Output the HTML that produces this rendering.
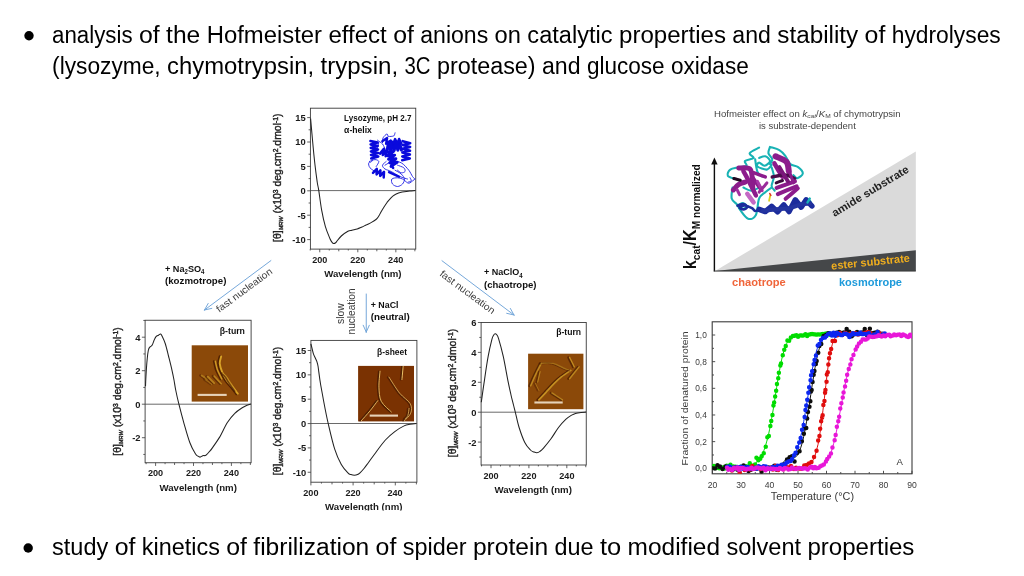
<!DOCTYPE html>
<html lang="en"><head><meta charset="utf-8"><title>Hofmeister effect</title>
<style>html,body{margin:0;padding:0;background:#fff;width:1024px;height:576px;overflow:hidden}svg{display:block;position:absolute;left:0;top:0}text{font-family:'Liberation Sans', sans-serif;white-space:pre}</style>
</head><body>
<svg width="1024" height="576" viewBox="0 0 1024 576">
<rect width="1024" height="576" fill="#fff"/>
<g id="body" fill="#000">
<text y="43.00" font-size="23"><tspan x="52.10" textLength="80.49" lengthAdjust="spacingAndGlyphs">analysis</tspan> <tspan x="138.99" textLength="20.71" lengthAdjust="spacingAndGlyphs">of</tspan> <tspan x="166.10" textLength="34.17" lengthAdjust="spacingAndGlyphs">the</tspan> <tspan x="206.66" textLength="115.38" lengthAdjust="spacingAndGlyphs">Hofmeister</tspan> <tspan x="328.44" textLength="58.34" lengthAdjust="spacingAndGlyphs">effect</tspan> <tspan x="393.18" textLength="20.71" lengthAdjust="spacingAndGlyphs">of</tspan> <tspan x="420.29" textLength="67.95" lengthAdjust="spacingAndGlyphs">anions</tspan> <tspan x="494.63" textLength="26.35" lengthAdjust="spacingAndGlyphs">on</tspan> <tspan x="527.38" textLength="85.23" lengthAdjust="spacingAndGlyphs">catalytic</tspan> <tspan x="619.01" textLength="106.96" lengthAdjust="spacingAndGlyphs">properties</tspan> <tspan x="732.37" textLength="38.56" lengthAdjust="spacingAndGlyphs">and</tspan> <tspan x="777.32" textLength="80.87" lengthAdjust="spacingAndGlyphs">stability</tspan> <tspan x="864.58" textLength="20.71" lengthAdjust="spacingAndGlyphs">of</tspan> <tspan x="891.69" textLength="109.09" lengthAdjust="spacingAndGlyphs">hydrolyses</tspan></text>
<text y="73.70" font-size="23"><tspan x="52.10" textLength="108.59" lengthAdjust="spacingAndGlyphs">(lysozyme,</tspan> <tspan x="167.08" textLength="146.98" lengthAdjust="spacingAndGlyphs">chymotrypsin,</tspan> <tspan x="320.46" textLength="77.65" lengthAdjust="spacingAndGlyphs">trypsin,</tspan> <tspan x="404.51" textLength="26.02" lengthAdjust="spacingAndGlyphs">3C</tspan> <tspan x="436.93" textLength="98.67" lengthAdjust="spacingAndGlyphs">protease)</tspan> <tspan x="541.99" textLength="38.56" lengthAdjust="spacingAndGlyphs">and</tspan> <tspan x="586.94" textLength="77.62" lengthAdjust="spacingAndGlyphs">glucose</tspan> <tspan x="670.96" textLength="77.81" lengthAdjust="spacingAndGlyphs">oxidase</tspan></text>
<text y="555.30" font-size="23"><tspan x="52.10" textLength="56.18" lengthAdjust="spacingAndGlyphs">study</tspan> <tspan x="114.68" textLength="20.71" lengthAdjust="spacingAndGlyphs">of</tspan> <tspan x="141.79" textLength="78.06" lengthAdjust="spacingAndGlyphs">kinetics</tspan> <tspan x="226.24" textLength="20.71" lengthAdjust="spacingAndGlyphs">of</tspan> <tspan x="253.35" textLength="115.85" lengthAdjust="spacingAndGlyphs">fibrilization</tspan> <tspan x="375.60" textLength="20.71" lengthAdjust="spacingAndGlyphs">of</tspan> <tspan x="402.71" textLength="63.84" lengthAdjust="spacingAndGlyphs">spider</tspan> <tspan x="472.94" textLength="75.21" lengthAdjust="spacingAndGlyphs">protein</tspan> <tspan x="554.55" textLength="39.04" lengthAdjust="spacingAndGlyphs">due</tspan> <tspan x="599.99" textLength="21.23" lengthAdjust="spacingAndGlyphs">to</tspan> <tspan x="627.62" textLength="92.40" lengthAdjust="spacingAndGlyphs">modified</tspan> <tspan x="726.41" textLength="74.62" lengthAdjust="spacingAndGlyphs">solvent</tspan> <tspan x="807.43" textLength="106.96" lengthAdjust="spacingAndGlyphs">properties</tspan></text>
<circle cx="29" cy="35.7" r="4.7"/>
<circle cx="28.2" cy="548" r="4.7"/>
</g>
<defs><filter id="soft" x="-2%" y="-2%" width="104%" height="104%"><feGaussianBlur stdDeviation="0.45"/></filter><filter id="soft2" x="-10%" y="-10%" width="120%" height="120%"><feGaussianBlur stdDeviation="0.55"/></filter></defs>
<g filter="url(#soft)">
<defs><clipPath id="clipwl"><rect x="300" y="494" width="140" height="16.4"/></clipPath></defs>
<g>
<rect x="310.40" y="108.20" width="105.35" height="140.90" fill="#fff" stroke="#3a3a3a" stroke-width="0.9"/>
<line x1="310.40" y1="190.60" x2="415.75" y2="190.60" stroke="#444" stroke-width="0.8"/>
<path d="M310.24,249.10v1.4M319.75,249.10v3.2M329.26,249.10v1.4M338.77,249.10v2.2M348.29,249.10v1.4M357.80,249.10v3.2M367.31,249.10v1.4M376.83,249.10v2.2M386.34,249.10v1.4M395.85,249.10v3.2M405.36,249.10v1.4M414.88,249.10v2.2M310.40,239.60h-3.2M310.40,227.40h-1.8M310.40,215.20h-3.2M310.40,203.00h-1.8M310.40,190.80h-3.2M310.40,178.60h-1.8M310.40,166.40h-3.2M310.40,154.20h-1.8M310.40,142.00h-3.2M310.40,129.80h-1.8M310.40,117.60h-3.2" stroke="#3a3a3a" stroke-width="0.8" fill="none"/>
<text x="319.75" y="262.70" font-size="9.4" font-weight="bold" text-anchor="middle" fill="#1a1a1a" textLength="15.20" lengthAdjust="spacingAndGlyphs">200</text>
<text x="357.80" y="262.70" font-size="9.4" font-weight="bold" text-anchor="middle" fill="#1a1a1a" textLength="15.20" lengthAdjust="spacingAndGlyphs">220</text>
<text x="395.70" y="262.70" font-size="9.4" font-weight="bold" text-anchor="middle" fill="#1a1a1a" textLength="15.20" lengthAdjust="spacingAndGlyphs">240</text>
<text x="305.80" y="121.30" font-size="9.4" font-weight="bold" text-anchor="end" fill="#1a1a1a">15</text>
<text x="305.80" y="145.30" font-size="9.4" font-weight="bold" text-anchor="end" fill="#1a1a1a">10</text>
<text x="305.80" y="169.50" font-size="9.4" font-weight="bold" text-anchor="end" fill="#1a1a1a">5</text>
<text x="305.80" y="194.00" font-size="9.4" font-weight="bold" text-anchor="end" fill="#1a1a1a">0</text>
<text x="305.80" y="218.60" font-size="9.4" font-weight="bold" text-anchor="end" fill="#1a1a1a">-5</text>
<text x="305.80" y="243.00" font-size="9.4" font-weight="bold" text-anchor="end" fill="#1a1a1a">-10</text>
<text x="362.90" y="277.30" font-size="9.7" font-weight="bold" text-anchor="middle" fill="#1a1a1a" textLength="77.40" lengthAdjust="spacingAndGlyphs">Wavelength (nm)</text>
<text transform="translate(281.10 177.70) rotate(-90)" text-anchor="middle" font-size="10.45" fill="#222" stroke="#222" stroke-width="0.4">[θ]<tspan font-size="5.6" font-style="italic" dy="2.2">MRW</tspan><tspan dy="-2.2"> (x10</tspan><tspan font-size="6.8" dy="-3.6">3</tspan><tspan dy="3.6"> deg.cm</tspan><tspan font-size="6.8" dy="-3.6">2</tspan><tspan dy="3.6">.dmol</tspan><tspan font-size="6.8" dy="-3.6">-1</tspan><tspan dy="3.6">)</tspan></text>
<path d="M310.6,118.5C310.9,122.1 311.8,132.2 312.5,140.0C313.2,147.8 314.2,158.0 315.0,165.0C315.8,172.0 316.6,177.7 317.2,182.0C317.8,186.3 318.1,186.0 318.8,190.6C319.5,195.2 320.5,203.8 321.6,209.8C322.7,215.8 324.0,221.8 325.4,226.6C326.8,231.4 328.9,236.1 330.0,238.8C331.1,241.5 331.7,241.8 332.3,242.6C332.9,243.4 333.3,243.4 333.8,243.5C334.3,243.6 334.8,243.3 335.3,243.0C335.8,242.7 335.6,242.8 336.6,241.6C337.6,240.4 339.4,237.7 341.3,236.0C343.2,234.3 346.1,232.3 347.9,231.3C349.7,230.3 350.4,230.6 352.0,230.2C353.6,229.8 355.6,229.5 357.2,229.0C358.9,228.5 360.4,227.7 362.0,227.0C363.6,226.3 365.0,225.5 366.6,224.8C368.2,224.0 369.9,223.3 371.5,222.4C373.1,221.5 374.8,220.5 376.0,219.5C377.2,218.5 377.7,217.7 378.5,216.5C379.3,215.3 379.8,214.2 380.7,212.6C381.6,211.0 382.9,208.7 384.0,207.0C385.1,205.3 386.1,203.8 387.2,202.2C388.4,200.7 389.8,199.1 391.0,197.8C392.2,196.6 393.5,195.6 394.8,194.8C396.0,193.9 397.2,193.5 398.5,193.0C399.8,192.5 400.4,192.3 402.2,192.0C404.1,191.7 407.6,191.2 409.8,191.0C411.9,190.8 414.5,190.7 415.4,190.6" fill="none" stroke="#222" stroke-width="1.05" stroke-linejoin="round"/>
</g>
<text x="344.10" y="121.00" font-size="8.6" font-weight="bold" fill="#111" textLength="67.50" lengthAdjust="spacingAndGlyphs">Lysozyme, pH 2.7</text>
<text x="344.10" y="133.40" font-size="8.6" font-weight="bold" fill="#111" textLength="27.80" lengthAdjust="spacingAndGlyphs">α-helix</text>
<g>
<rect x="145.10" y="320.25" width="106.00" height="142.50" fill="#fff" stroke="#3a3a3a" stroke-width="0.9"/>
<line x1="145.10" y1="404.20" x2="251.10" y2="404.20" stroke="#444" stroke-width="0.8"/>
<path d="M146.12,462.75v1.4M155.60,462.75v3.2M165.07,462.75v1.4M174.55,462.75v2.2M184.03,462.75v1.4M193.50,462.75v3.2M202.97,462.75v1.4M212.45,462.75v2.2M221.93,462.75v1.4M231.40,462.75v3.2M240.88,462.75v1.4M250.35,462.75v2.2M145.10,454.45h-1.8M145.10,437.70h-3.2M145.10,420.95h-1.8M145.10,404.20h-3.2M145.10,387.45h-1.8M145.10,370.70h-3.2M145.10,353.95h-1.8M145.10,337.20h-3.2M145.10,320.45h-1.8" stroke="#3a3a3a" stroke-width="0.8" fill="none"/>
<text x="155.60" y="476.35" font-size="9.4" font-weight="bold" text-anchor="middle" fill="#1a1a1a" textLength="15.20" lengthAdjust="spacingAndGlyphs">200</text>
<text x="193.50" y="476.35" font-size="9.4" font-weight="bold" text-anchor="middle" fill="#1a1a1a" textLength="15.20" lengthAdjust="spacingAndGlyphs">220</text>
<text x="231.40" y="476.35" font-size="9.4" font-weight="bold" text-anchor="middle" fill="#1a1a1a" textLength="15.20" lengthAdjust="spacingAndGlyphs">240</text>
<text x="140.50" y="340.90" font-size="9.4" font-weight="bold" text-anchor="end" fill="#1a1a1a">4</text>
<text x="140.50" y="374.30" font-size="9.4" font-weight="bold" text-anchor="end" fill="#1a1a1a">2</text>
<text x="140.50" y="407.60" font-size="9.4" font-weight="bold" text-anchor="end" fill="#1a1a1a">0</text>
<text x="140.50" y="441.10" font-size="9.4" font-weight="bold" text-anchor="end" fill="#1a1a1a">-2</text>
<text x="198.20" y="490.95" font-size="9.7" font-weight="bold" text-anchor="middle" fill="#1a1a1a" textLength="77.40" lengthAdjust="spacingAndGlyphs">Wavelength (nm)</text>
<text transform="translate(121.10 391.50) rotate(-90)" text-anchor="middle" font-size="10.45" fill="#222" stroke="#222" stroke-width="0.4">[θ]<tspan font-size="5.6" font-style="italic" dy="2.2">MRW</tspan><tspan dy="-2.2"> (x10</tspan><tspan font-size="6.8" dy="-3.6">3</tspan><tspan dy="3.6"> deg.cm</tspan><tspan font-size="6.8" dy="-3.6">2</tspan><tspan dy="3.6">.dmol</tspan><tspan font-size="6.8" dy="-3.6">-1</tspan><tspan dy="3.6">)</tspan></text>
<path d="M145.5,386.2C145.6,383.9 145.9,376.5 146.2,372.0C146.5,367.5 146.8,362.6 147.2,359.0C147.5,355.4 147.9,352.4 148.3,350.5C148.7,348.6 149.0,348.3 149.4,347.6C149.8,346.9 150.3,346.8 150.8,346.4C151.3,346.0 151.7,346.0 152.2,345.0C152.8,344.0 153.4,341.9 154.0,340.5C154.6,339.1 155.2,337.5 156.0,336.6C156.8,335.7 157.7,335.6 158.5,335.2C159.3,334.8 160.0,333.8 160.7,334.1C161.4,334.4 161.7,335.4 162.5,337.0C163.3,338.6 164.4,340.8 165.4,344.0C166.4,347.2 167.4,351.6 168.5,356.0C169.6,360.4 171.1,366.3 172.0,370.3C172.9,374.3 173.4,376.7 174.0,380.0C174.6,383.3 174.9,386.0 175.7,390.0C176.5,394.0 177.5,398.6 178.9,404.2C180.3,409.9 182.3,417.4 184.1,423.8C185.9,430.1 187.9,437.5 189.8,442.5C191.6,447.5 194.0,451.5 195.4,453.8C196.8,456.0 197.2,455.6 198.0,456.2C198.8,456.8 199.4,457.1 200.0,457.1C200.6,457.1 201.2,456.4 201.8,456.2C202.4,455.9 203.2,455.7 203.8,455.6C204.4,455.5 204.8,455.8 205.3,455.6C205.8,455.5 206.0,455.3 206.6,454.7C207.2,454.1 208.1,453.1 209.0,452.0C209.9,450.9 210.5,450.6 212.2,448.1C214.0,445.6 217.2,441.1 219.8,436.9C222.2,432.7 224.8,426.7 227.2,422.8C229.8,418.9 232.2,415.9 234.8,413.4C237.2,410.9 240.2,409.1 242.2,407.8C244.3,406.5 245.6,405.9 247.0,405.3C248.4,404.7 250.2,404.2 250.9,404.0" fill="none" stroke="#222" stroke-width="1.05" stroke-linejoin="round"/>
</g>
<text x="219.75" y="334.30" font-size="8.6" font-weight="bold" fill="#111" textLength="25.20" lengthAdjust="spacingAndGlyphs">β-turn</text>
<g>
<rect x="310.90" y="340.40" width="106.00" height="141.80" fill="#fff" stroke="#3a3a3a" stroke-width="0.9"/>
<line x1="310.90" y1="423.50" x2="416.90" y2="423.50" stroke="#444" stroke-width="0.8"/>
<path d="M310.90,482.20v3.2M321.45,482.20v1.4M332.00,482.20v2.2M342.55,482.20v1.4M353.10,482.20v3.2M363.65,482.20v1.4M374.20,482.20v2.2M384.75,482.20v1.4M395.30,482.20v3.2M405.85,482.20v1.4M416.40,482.20v2.2M310.90,472.25h-3.2M310.90,460.07h-1.8M310.90,447.90h-3.2M310.90,435.72h-1.8M310.90,423.55h-3.2M310.90,411.37h-1.8M310.90,399.20h-3.2M310.90,387.02h-1.8M310.90,374.85h-3.2M310.90,362.67h-1.8M310.90,350.50h-3.2" stroke="#3a3a3a" stroke-width="0.8" fill="none"/>
<text x="310.90" y="495.80" font-size="9.4" font-weight="bold" text-anchor="middle" fill="#1a1a1a" textLength="15.20" lengthAdjust="spacingAndGlyphs">200</text>
<text x="353.10" y="495.80" font-size="9.4" font-weight="bold" text-anchor="middle" fill="#1a1a1a" textLength="15.20" lengthAdjust="spacingAndGlyphs">220</text>
<text x="395.10" y="495.80" font-size="9.4" font-weight="bold" text-anchor="middle" fill="#1a1a1a" textLength="15.20" lengthAdjust="spacingAndGlyphs">240</text>
<text x="306.30" y="353.70" font-size="9.4" font-weight="bold" text-anchor="end" fill="#1a1a1a">15</text>
<text x="306.30" y="377.80" font-size="9.4" font-weight="bold" text-anchor="end" fill="#1a1a1a">10</text>
<text x="306.30" y="402.40" font-size="9.4" font-weight="bold" text-anchor="end" fill="#1a1a1a">5</text>
<text x="306.30" y="426.90" font-size="9.4" font-weight="bold" text-anchor="end" fill="#1a1a1a">0</text>
<text x="306.30" y="451.30" font-size="9.4" font-weight="bold" text-anchor="end" fill="#1a1a1a">-5</text>
<text x="306.30" y="475.65" font-size="9.4" font-weight="bold" text-anchor="end" fill="#1a1a1a">-10</text>
<text x="363.80" y="510.40" font-size="9.7" font-weight="bold" text-anchor="middle" fill="#1a1a1a" textLength="77.40" lengthAdjust="spacingAndGlyphs" clip-path="url(#clipwl)">Wavelength (nm)</text>
<text transform="translate(281.10 411.00) rotate(-90)" text-anchor="middle" font-size="10.45" fill="#222" stroke="#222" stroke-width="0.4">[θ]<tspan font-size="5.6" font-style="italic" dy="2.2">MRW</tspan><tspan dy="-2.2"> (x10</tspan><tspan font-size="6.8" dy="-3.6">3</tspan><tspan dy="3.6"> deg.cm</tspan><tspan font-size="6.8" dy="-3.6">2</tspan><tspan dy="3.6">.dmol</tspan><tspan font-size="6.8" dy="-3.6">-1</tspan><tspan dy="3.6">)</tspan></text>
<path d="M310.9,343.8C311.3,345.3 312.5,350.7 313.2,353.1C313.9,355.5 314.7,356.6 315.3,358.0C315.9,359.4 316.4,360.3 316.9,361.6C317.3,362.9 317.7,364.3 318.0,366.0C318.3,367.7 318.4,368.7 318.8,371.9C319.2,375.1 319.8,379.8 320.7,385.0C321.6,390.2 322.8,396.6 324.0,403.0C325.2,409.4 326.4,415.8 328.2,423.5C330.0,431.2 332.6,442.6 334.8,449.4C336.9,456.2 339.1,460.5 341.3,464.4C343.5,468.3 346.3,471.1 347.9,472.8C349.5,474.5 349.9,474.2 351.0,474.6C352.1,475.0 353.3,475.2 354.4,475.2C355.5,475.2 356.6,475.0 357.5,474.6C358.4,474.2 358.9,473.8 360.0,472.8C361.1,471.8 362.6,470.2 364.0,468.5C365.4,466.8 366.5,465.2 368.5,462.5C370.5,459.8 373.2,455.9 376.0,452.2C378.8,448.4 382.3,443.4 385.4,440.0C388.5,436.6 391.6,434.0 394.8,431.6C397.9,429.2 401.6,427.1 404.1,425.9C406.6,424.7 408.0,424.7 410.0,424.3C412.0,423.9 415.2,423.6 416.3,423.5" fill="none" stroke="#222" stroke-width="1.05" stroke-linejoin="round"/>
</g>
<text x="377.00" y="354.90" font-size="8.6" font-weight="bold" fill="#111" textLength="30.00" lengthAdjust="spacingAndGlyphs">β-sheet</text>
<g>
<rect x="481.10" y="322.50" width="105.15" height="142.50" fill="#fff" stroke="#3a3a3a" stroke-width="0.9"/>
<line x1="481.10" y1="412.20" x2="586.25" y2="412.20" stroke="#444" stroke-width="0.8"/>
<path d="M481.52,465.00v1.4M491.00,465.00v3.2M500.48,465.00v1.4M509.95,465.00v2.2M519.42,465.00v1.4M528.90,465.00v3.2M538.38,465.00v1.4M547.85,465.00v2.2M557.32,465.00v1.4M566.80,465.00v3.2M576.27,465.00v1.4M585.75,465.00v2.2M481.10,457.05h-1.8M481.10,442.10h-3.2M481.10,427.15h-1.8M481.10,412.20h-3.2M481.10,397.25h-1.8M481.10,382.30h-3.2M481.10,367.35h-1.8M481.10,352.40h-3.2M481.10,337.45h-1.8M481.10,322.50h-3.2" stroke="#3a3a3a" stroke-width="0.8" fill="none"/>
<text x="491.00" y="478.60" font-size="9.4" font-weight="bold" text-anchor="middle" fill="#1a1a1a" textLength="15.20" lengthAdjust="spacingAndGlyphs">200</text>
<text x="528.90" y="478.60" font-size="9.4" font-weight="bold" text-anchor="middle" fill="#1a1a1a" textLength="15.20" lengthAdjust="spacingAndGlyphs">220</text>
<text x="566.90" y="478.60" font-size="9.4" font-weight="bold" text-anchor="middle" fill="#1a1a1a" textLength="15.20" lengthAdjust="spacingAndGlyphs">240</text>
<text x="476.50" y="325.90" font-size="9.4" font-weight="bold" text-anchor="end" fill="#1a1a1a">6</text>
<text x="476.50" y="355.70" font-size="9.4" font-weight="bold" text-anchor="end" fill="#1a1a1a">4</text>
<text x="476.50" y="385.60" font-size="9.4" font-weight="bold" text-anchor="end" fill="#1a1a1a">2</text>
<text x="476.50" y="415.60" font-size="9.4" font-weight="bold" text-anchor="end" fill="#1a1a1a">0</text>
<text x="476.50" y="445.50" font-size="9.4" font-weight="bold" text-anchor="end" fill="#1a1a1a">-2</text>
<text x="533.20" y="493.20" font-size="9.7" font-weight="bold" text-anchor="middle" fill="#1a1a1a" textLength="77.40" lengthAdjust="spacingAndGlyphs">Wavelength (nm)</text>
<text transform="translate(456.10 393.00) rotate(-90)" text-anchor="middle" font-size="10.45" fill="#222" stroke="#222" stroke-width="0.4">[θ]<tspan font-size="5.6" font-style="italic" dy="2.2">MRW</tspan><tspan dy="-2.2"> (x10</tspan><tspan font-size="6.8" dy="-3.6">3</tspan><tspan dy="3.6"> deg.cm</tspan><tspan font-size="6.8" dy="-3.6">2</tspan><tspan dy="3.6">.dmol</tspan><tspan font-size="6.8" dy="-3.6">-1</tspan><tspan dy="3.6">)</tspan></text>
<path d="M481.3,402.2C481.8,398.6 483.2,388.3 484.4,380.6C485.5,372.9 486.9,363.1 488.2,356.2C489.4,349.4 491.0,342.9 491.9,339.4C492.8,335.9 493.1,336.1 493.6,335.2C494.1,334.3 494.6,333.8 495.1,333.8C495.6,333.7 496.1,334.0 496.7,334.8C497.3,335.6 497.4,334.8 498.5,338.4C499.6,342.0 501.6,349.2 503.2,356.2C504.8,363.3 506.6,374.1 507.9,380.6C509.2,387.1 510.1,390.9 511.0,395.0C511.9,399.1 512.8,402.1 513.5,405.0C514.2,407.9 514.5,408.8 515.4,412.5C516.3,416.2 517.5,422.5 519.1,427.5C520.7,432.5 522.9,438.8 524.8,442.5C526.6,446.2 528.9,448.4 530.4,450.0C531.9,451.6 532.9,451.5 534.0,452.0C535.1,452.5 535.9,452.9 536.9,452.8C537.9,452.7 538.9,452.2 540.0,451.4C541.1,450.6 541.7,450.2 543.5,448.1C545.3,446.0 548.5,442.2 551.0,438.8C553.5,435.3 556.0,430.8 558.5,427.5C561.0,424.2 563.9,421.1 566.0,419.1C568.1,417.1 569.4,416.4 571.0,415.5C572.6,414.6 573.7,413.9 575.4,413.4C577.1,412.9 579.2,412.6 581.0,412.4C582.8,412.2 585.2,412.2 586.1,412.1" fill="none" stroke="#222" stroke-width="1.05" stroke-linejoin="round"/>
</g>
<text x="556.25" y="334.80" font-size="8.6" font-weight="bold" fill="#111" textLength="24.80" lengthAdjust="spacingAndGlyphs">β-turn</text>
<path d="M270.90,260.60L204.50,310.00M204.50,310.00l3.68,-6.54M204.50,310.00l7.32,-1.64" stroke="#6fa3d8" stroke-width="0.95" fill="none" stroke-linecap="round"/>
<path d="M442.00,260.75L514.00,315.00M514.00,315.00l-7.31,-1.69M514.00,315.00l-3.64,-6.56" stroke="#6fa3d8" stroke-width="0.95" fill="none" stroke-linecap="round"/>
<path d="M366.25,294.00L366.25,332.10M366.25,332.10l-3.05,-6.85M366.25,332.10l3.05,-6.85" stroke="#6fa3d8" stroke-width="0.95" fill="none" stroke-linecap="round"/>
<text transform="translate(246.2 292.8) rotate(-36.5)" text-anchor="middle" font-size="9.8" fill="#3a3a3a" textLength="67" lengthAdjust="spacingAndGlyphs">fast nucleation</text>
<text transform="translate(465.5 294.8) rotate(36.5)" text-anchor="middle" font-size="9.8" fill="#3a3a3a" textLength="66" lengthAdjust="spacingAndGlyphs">fast nucleation</text>
<text transform="translate(343.6 313.7) rotate(-90)" text-anchor="middle" font-size="10.4" fill="#3a3a3a" textLength="20.6" lengthAdjust="spacingAndGlyphs">slow</text>
<text transform="translate(354.9 311.4) rotate(-90)" text-anchor="middle" font-size="10.4" fill="#3a3a3a" textLength="46" lengthAdjust="spacingAndGlyphs">nucleation</text>
<text x="165.00" y="271.50" font-size="9.6" font-weight="bold" fill="#111" textLength="39.50" lengthAdjust="spacingAndGlyphs">+ Na<tspan font-size="6.4" dy="2.2">2</tspan><tspan dy="-2.2" font-size="0.1"> </tspan>SO<tspan font-size="6.4" dy="2.2">4</tspan><tspan dy="-2.2" font-size="0.1"> </tspan></text>
<text x="165.00" y="283.70" font-size="9.6" font-weight="bold" fill="#111" textLength="61.40" lengthAdjust="spacingAndGlyphs">(kozmotrope)</text>
<text x="484.00" y="275.30" font-size="9.6" font-weight="bold" fill="#111" textLength="38.75" lengthAdjust="spacingAndGlyphs">+ NaClO<tspan font-size="6.4" dy="2.2">4</tspan><tspan dy="-2.2" font-size="0.1"> </tspan></text>
<text x="484.00" y="287.50" font-size="9.6" font-weight="bold" fill="#111" textLength="52.50" lengthAdjust="spacingAndGlyphs">(chaotrope)</text>
<text x="370.75" y="307.70" font-size="9.6" font-weight="bold" fill="#111" textLength="27.75" lengthAdjust="spacingAndGlyphs">+ NaCl</text>
<text x="370.75" y="319.90" font-size="9.6" font-weight="bold" fill="#111" textLength="39.00" lengthAdjust="spacingAndGlyphs">(neutral)</text>
<g>
<polygon points="715,271 915.8,271 915.8,151.5" fill="#dadada"/>
<polygon points="715,271 915.8,271 915.8,250.3" fill="#45474a"/>
<path d="M714.4,271.3V162" stroke="#111" stroke-width="1.4" fill="none"/>
<polygon points="714.4,157.6 711.2,164.6 717.6,164.6" fill="#111"/>
<path d="M713.7,271.1H915.8" stroke="#333" stroke-width="0.9" fill="none"/>
<text x="714.00" y="116.60" font-size="8.7" fill="#444" textLength="186.60" lengthAdjust="spacingAndGlyphs">Hofmeister effect on <tspan font-style="italic">k</tspan><tspan font-size="6" dy="1.5" font-style="italic">cat</tspan><tspan dy="-1.5">/</tspan><tspan font-style="italic">K</tspan><tspan font-size="6" dy="1.5">M</tspan><tspan dy="-1.5"> of chymotrypsin</tspan></text>
<text x="807.40" y="129.20" font-size="8.7" text-anchor="middle" fill="#444" textLength="96.80" lengthAdjust="spacingAndGlyphs">is substrate-dependent</text>
<text transform="translate(695.8 269.2) rotate(-90)" font-weight="bold" fill="#111" font-size="17.6" textLength="105" lengthAdjust="spacingAndGlyphs">k<tspan font-size="11" dy="4.6">cat</tspan><tspan dy="-4.6">/K</tspan><tspan font-size="11" dy="4.6">M normalized</tspan></text>
<text transform="translate(872.2 194.2) rotate(-31.2)" text-anchor="middle" font-weight="bold" fill="#222" font-size="10.8" textLength="88" lengthAdjust="spacingAndGlyphs">amide substrate</text>
<text transform="translate(870.9 265.7) rotate(-5.8)" text-anchor="middle" font-weight="bold" fill="#f0ae1e" font-size="11" textLength="79" lengthAdjust="spacingAndGlyphs">ester substrate</text>
<text x="732.00" y="286.20" font-size="10.8" font-weight="bold" fill="#f0653a" textLength="53.80" lengthAdjust="spacingAndGlyphs">chaotrope</text>
<text x="839.00" y="286.20" font-size="10.8" font-weight="bold" fill="#1e9ada" textLength="63.00" lengthAdjust="spacingAndGlyphs">kosmotrope</text>
</g>
<g>
<rect x="712.2" y="321.8" width="199.80" height="152.00" fill="#fff" stroke="#3c3c3c" stroke-width="1.1"/>
<path d="M712.50,473.8v-3M726.75,473.8v-1.8M741.00,473.8v-3M755.25,473.8v-1.8M769.50,473.8v-3M783.75,473.8v-1.8M798.00,473.8v-3M812.25,473.8v-1.8M826.50,473.8v-3M840.75,473.8v-1.8M855.00,473.8v-3M869.25,473.8v-1.8M883.50,473.8v-3M897.75,473.8v-1.8M912.00,473.8v-3M712.2,468.30h3M712.2,454.97h1.8M712.2,441.64h3M712.2,428.31h1.8M712.2,414.98h3M712.2,401.65h1.8M712.2,388.32h3M712.2,374.99h1.8M712.2,361.66h3M712.2,348.33h1.8M712.2,335.00h3" stroke="#3c3c3c" stroke-width="0.9" fill="none"/>
<text x="712.50" y="487.60" font-size="8.6" text-anchor="middle" fill="#3a3a3a" textLength="9.60" lengthAdjust="spacingAndGlyphs">20</text>
<text x="741.00" y="487.60" font-size="8.6" text-anchor="middle" fill="#3a3a3a" textLength="9.60" lengthAdjust="spacingAndGlyphs">30</text>
<text x="769.50" y="487.60" font-size="8.6" text-anchor="middle" fill="#3a3a3a" textLength="9.60" lengthAdjust="spacingAndGlyphs">40</text>
<text x="798.00" y="487.60" font-size="8.6" text-anchor="middle" fill="#3a3a3a" textLength="9.60" lengthAdjust="spacingAndGlyphs">50</text>
<text x="826.50" y="487.60" font-size="8.6" text-anchor="middle" fill="#3a3a3a" textLength="9.60" lengthAdjust="spacingAndGlyphs">60</text>
<text x="855.00" y="487.60" font-size="8.6" text-anchor="middle" fill="#3a3a3a" textLength="9.60" lengthAdjust="spacingAndGlyphs">70</text>
<text x="883.50" y="487.60" font-size="8.6" text-anchor="middle" fill="#3a3a3a" textLength="9.60" lengthAdjust="spacingAndGlyphs">80</text>
<text x="912.00" y="487.60" font-size="8.6" text-anchor="middle" fill="#3a3a3a" textLength="9.60" lengthAdjust="spacingAndGlyphs">90</text>
<text x="706.80" y="471.40" font-size="8.6" text-anchor="end" fill="#3a3a3a" textLength="11.60" lengthAdjust="spacingAndGlyphs">0,0</text>
<text x="706.80" y="444.74" font-size="8.6" text-anchor="end" fill="#3a3a3a" textLength="11.60" lengthAdjust="spacingAndGlyphs">0,2</text>
<text x="706.80" y="418.08" font-size="8.6" text-anchor="end" fill="#3a3a3a" textLength="11.60" lengthAdjust="spacingAndGlyphs">0,4</text>
<text x="706.80" y="391.42" font-size="8.6" text-anchor="end" fill="#3a3a3a" textLength="11.60" lengthAdjust="spacingAndGlyphs">0,6</text>
<text x="706.80" y="364.76" font-size="8.6" text-anchor="end" fill="#3a3a3a" textLength="11.60" lengthAdjust="spacingAndGlyphs">0,8</text>
<text x="706.80" y="338.10" font-size="8.6" text-anchor="end" fill="#3a3a3a" textLength="11.60" lengthAdjust="spacingAndGlyphs">1,0</text>
<text x="812.40" y="499.60" font-size="10.3" text-anchor="middle" fill="#3a3a3a" textLength="83.20" lengthAdjust="spacingAndGlyphs">Temperature (°C)</text>
<text transform="translate(688.2 398.4) rotate(-90)" text-anchor="middle" font-size="9.8" fill="#3a3a3a" textLength="134" lengthAdjust="spacingAndGlyphs">Fraction of denatured protein</text>
<text x="896.40" y="465.20" font-size="9.6" fill="#333">A</text>
<clipPath id="clipden"><rect x="712.2" y="321.8" width="199.8" height="152"/></clipPath><g clip-path="url(#clipden)">
<path d="M712.5,467.8L713.2,467.8L713.9,467.8L714.6,467.8L715.4,467.8L716.1,467.8L716.8,467.8L717.5,467.8L718.2,467.8L718.9,467.8L719.6,467.8L720.3,467.8L721.0,467.8L721.8,467.7L722.5,467.7L723.2,467.7L723.9,467.7L724.6,467.7L725.3,467.7L726.0,467.7L726.8,467.7L727.5,467.7L728.2,467.7L728.9,467.7L729.6,467.7L730.3,467.7L731.0,467.7L731.7,467.7L732.5,467.7L733.2,467.7L733.9,467.6L734.6,467.6L735.3,467.6L736.0,467.6L736.7,467.6L737.4,467.5L738.1,467.5L738.9,467.5L739.6,467.4L740.3,467.4L741.0,467.3L741.7,467.3L742.4,467.2L743.1,467.2L743.9,467.1L744.6,467.0L745.3,466.9L746.0,466.8L746.7,466.7L747.4,466.5L748.1,466.4L748.8,466.2L749.5,466.0L750.3,465.8L751.0,465.6L751.7,465.3L752.4,465.0L753.1,464.6L753.8,464.2L754.5,463.8L755.2,463.3L756.0,462.8L756.7,462.2L757.4,461.5L758.1,460.7L758.8,459.9L759.5,458.9L760.2,457.9L761.0,456.7L761.7,455.4L762.4,454.0L763.1,452.4L763.8,450.7L764.5,448.8L765.2,446.7L765.9,444.4L766.6,441.9L767.4,439.2L768.1,436.3L768.8,433.2L769.5,429.8L770.2,426.3L770.9,422.5L771.6,418.5L772.4,414.4L773.1,410.1L773.8,405.8L774.5,401.3L775.2,396.7L775.9,392.2L776.6,387.7L777.3,383.2L778.0,378.9L778.8,374.7L779.5,370.6L780.2,366.8L780.9,363.2L781.6,359.9L782.3,356.8L783.0,354.0L783.8,351.5L784.5,349.2L785.2,347.1L785.9,345.3L786.6,343.7L787.3,342.4L788.0,341.2L788.7,340.1L789.5,339.2L790.2,338.5L790.9,337.8L791.6,337.3L792.3,336.8L793.0,336.4L793.7,336.1L794.4,335.8L795.1,335.6L795.9,335.4L796.6,335.2L797.3,335.1L798.0,335.0L798.7,334.9L799.4,334.8L800.1,334.7L800.9,334.7L801.6,334.7L802.3,334.6L803.0,334.6L803.7,334.6L804.4,334.6L805.1,334.5L805.8,334.5L806.5,334.5L807.3,334.5L808.0,334.5L808.7,334.5L809.4,334.5L810.1,334.5L810.8,334.5L811.5,334.5L812.2,334.5L813.0,334.5L813.7,334.5L814.4,334.5L815.1,334.5L815.8,334.5L816.5,334.5L817.2,334.5L818.0,334.5L818.7,334.5L819.4,334.5L820.1,334.5L820.8,334.5L821.5,334.5L822.2,334.5L822.9,334.5L823.6,334.5L824.4,334.5L825.1,334.5L825.8,334.5L826.5,334.5L827.2,334.5L827.9,334.5L828.6,334.5L829.4,334.5L830.1,334.5L830.8,334.5" fill="none" stroke="#00dc00" stroke-width="1"/>
<path d="M710.1,466.4a2.25,2.25 0 1,0 4.5,0a2.25,2.25 0 1,0 -4.5,0M711.8,465.9a2.25,2.25 0 1,0 4.5,0a2.25,2.25 0 1,0 -4.5,0M713.8,468.1a2.25,2.25 0 1,0 4.5,0a2.25,2.25 0 1,0 -4.5,0M715.6,467.3a2.25,2.25 0 1,0 4.5,0a2.25,2.25 0 1,0 -4.5,0M717.0,468.3a2.25,2.25 0 1,0 4.5,0a2.25,2.25 0 1,0 -4.5,0M718.8,467.5a2.25,2.25 0 1,0 4.5,0a2.25,2.25 0 1,0 -4.5,0M720.8,467.4a2.25,2.25 0 1,0 4.5,0a2.25,2.25 0 1,0 -4.5,0M722.5,468.5a2.25,2.25 0 1,0 4.5,0a2.25,2.25 0 1,0 -4.5,0M724.5,465.7a2.25,2.25 0 1,0 4.5,0a2.25,2.25 0 1,0 -4.5,0M726.1,468.4a2.25,2.25 0 1,0 4.5,0a2.25,2.25 0 1,0 -4.5,0M728.2,464.7a2.25,2.25 0 1,0 4.5,0a2.25,2.25 0 1,0 -4.5,0M729.6,466.8a2.25,2.25 0 1,0 4.5,0a2.25,2.25 0 1,0 -4.5,0M731.2,466.6a2.25,2.25 0 1,0 4.5,0a2.25,2.25 0 1,0 -4.5,0M733.4,466.7a2.25,2.25 0 1,0 4.5,0a2.25,2.25 0 1,0 -4.5,0M734.8,469.5a2.25,2.25 0 1,0 4.5,0a2.25,2.25 0 1,0 -4.5,0M736.7,468.6a2.25,2.25 0 1,0 4.5,0a2.25,2.25 0 1,0 -4.5,0M738.6,466.8a2.25,2.25 0 1,0 4.5,0a2.25,2.25 0 1,0 -4.5,0M740.1,467.0a2.25,2.25 0 1,0 4.5,0a2.25,2.25 0 1,0 -4.5,0M742.2,468.3a2.25,2.25 0 1,0 4.5,0a2.25,2.25 0 1,0 -4.5,0M743.9,466.2a2.25,2.25 0 1,0 4.5,0a2.25,2.25 0 1,0 -4.5,0M745.6,467.3a2.25,2.25 0 1,0 4.5,0a2.25,2.25 0 1,0 -4.5,0M747.5,463.3a2.25,2.25 0 1,0 4.5,0a2.25,2.25 0 1,0 -4.5,0M749.0,467.2a2.25,2.25 0 1,0 4.5,0a2.25,2.25 0 1,0 -4.5,0M751.1,465.5a2.25,2.25 0 1,0 4.5,0a2.25,2.25 0 1,0 -4.5,0M752.8,464.6a2.25,2.25 0 1,0 4.5,0a2.25,2.25 0 1,0 -4.5,0M754.2,457.8a2.25,2.25 0 1,0 4.5,0a2.25,2.25 0 1,0 -4.5,0M756.1,460.3a2.25,2.25 0 1,0 4.5,0a2.25,2.25 0 1,0 -4.5,0M758.0,458.8a2.25,2.25 0 1,0 4.5,0a2.25,2.25 0 1,0 -4.5,0M759.4,456.2a2.25,2.25 0 1,0 4.5,0a2.25,2.25 0 1,0 -4.5,0M761.5,453.2a2.25,2.25 0 1,0 4.5,0a2.25,2.25 0 1,0 -4.5,0M763.5,446.7a2.25,2.25 0 1,0 4.5,0a2.25,2.25 0 1,0 -4.5,0M765.1,437.3a2.25,2.25 0 1,0 4.5,0a2.25,2.25 0 1,0 -4.5,0M766.6,436.1a2.25,2.25 0 1,0 4.5,0a2.25,2.25 0 1,0 -4.5,0M768.1,426.0a2.25,2.25 0 1,0 4.5,0a2.25,2.25 0 1,0 -4.5,0M769.0,420.9a2.25,2.25 0 1,0 4.5,0a2.25,2.25 0 1,0 -4.5,0M770.2,414.9a2.25,2.25 0 1,0 4.5,0a2.25,2.25 0 1,0 -4.5,0M771.2,405.4a2.25,2.25 0 1,0 4.5,0a2.25,2.25 0 1,0 -4.5,0M771.9,402.5a2.25,2.25 0 1,0 4.5,0a2.25,2.25 0 1,0 -4.5,0M772.9,396.5a2.25,2.25 0 1,0 4.5,0a2.25,2.25 0 1,0 -4.5,0M773.9,390.7a2.25,2.25 0 1,0 4.5,0a2.25,2.25 0 1,0 -4.5,0M774.7,384.1a2.25,2.25 0 1,0 4.5,0a2.25,2.25 0 1,0 -4.5,0M776.0,378.3a2.25,2.25 0 1,0 4.5,0a2.25,2.25 0 1,0 -4.5,0M776.6,372.8a2.25,2.25 0 1,0 4.5,0a2.25,2.25 0 1,0 -4.5,0M778.1,365.5a2.25,2.25 0 1,0 4.5,0a2.25,2.25 0 1,0 -4.5,0M778.8,363.4a2.25,2.25 0 1,0 4.5,0a2.25,2.25 0 1,0 -4.5,0M780.5,355.3a2.25,2.25 0 1,0 4.5,0a2.25,2.25 0 1,0 -4.5,0M782.0,349.7a2.25,2.25 0 1,0 4.5,0a2.25,2.25 0 1,0 -4.5,0M783.5,346.1a2.25,2.25 0 1,0 4.5,0a2.25,2.25 0 1,0 -4.5,0M785.2,340.4a2.25,2.25 0 1,0 4.5,0a2.25,2.25 0 1,0 -4.5,0M786.9,340.7a2.25,2.25 0 1,0 4.5,0a2.25,2.25 0 1,0 -4.5,0M788.6,337.6a2.25,2.25 0 1,0 4.5,0a2.25,2.25 0 1,0 -4.5,0M790.6,335.9a2.25,2.25 0 1,0 4.5,0a2.25,2.25 0 1,0 -4.5,0M792.4,335.7a2.25,2.25 0 1,0 4.5,0a2.25,2.25 0 1,0 -4.5,0M794.1,335.2a2.25,2.25 0 1,0 4.5,0a2.25,2.25 0 1,0 -4.5,0M795.8,336.8a2.25,2.25 0 1,0 4.5,0a2.25,2.25 0 1,0 -4.5,0M797.8,335.6a2.25,2.25 0 1,0 4.5,0a2.25,2.25 0 1,0 -4.5,0M799.5,335.5a2.25,2.25 0 1,0 4.5,0a2.25,2.25 0 1,0 -4.5,0M800.9,335.4a2.25,2.25 0 1,0 4.5,0a2.25,2.25 0 1,0 -4.5,0M803.2,334.2a2.25,2.25 0 1,0 4.5,0a2.25,2.25 0 1,0 -4.5,0M804.9,336.1a2.25,2.25 0 1,0 4.5,0a2.25,2.25 0 1,0 -4.5,0M806.4,334.8a2.25,2.25 0 1,0 4.5,0a2.25,2.25 0 1,0 -4.5,0M808.4,334.3a2.25,2.25 0 1,0 4.5,0a2.25,2.25 0 1,0 -4.5,0M809.8,334.0a2.25,2.25 0 1,0 4.5,0a2.25,2.25 0 1,0 -4.5,0M811.6,334.2a2.25,2.25 0 1,0 4.5,0a2.25,2.25 0 1,0 -4.5,0M813.5,334.5a2.25,2.25 0 1,0 4.5,0a2.25,2.25 0 1,0 -4.5,0M815.1,334.5a2.25,2.25 0 1,0 4.5,0a2.25,2.25 0 1,0 -4.5,0M816.9,334.6a2.25,2.25 0 1,0 4.5,0a2.25,2.25 0 1,0 -4.5,0M819.1,334.3a2.25,2.25 0 1,0 4.5,0a2.25,2.25 0 1,0 -4.5,0M820.7,334.1a2.25,2.25 0 1,0 4.5,0a2.25,2.25 0 1,0 -4.5,0M822.3,334.0a2.25,2.25 0 1,0 4.5,0a2.25,2.25 0 1,0 -4.5,0M824.1,333.4a2.25,2.25 0 1,0 4.5,0a2.25,2.25 0 1,0 -4.5,0M826.2,333.4a2.25,2.25 0 1,0 4.5,0a2.25,2.25 0 1,0 -4.5,0M827.7,334.8a2.25,2.25 0 1,0 4.5,0a2.25,2.25 0 1,0 -4.5,0" fill="#00dc00"/>
<path d="M712.5,468.3L713.2,468.3L713.9,468.3L714.6,468.3L715.4,468.3L716.1,468.3L716.8,468.3L717.5,468.3L718.2,468.3L718.9,468.3L719.6,468.3L720.3,468.3L721.0,468.3L721.8,468.3L722.5,468.3L723.2,468.3L723.9,468.3L724.6,468.3L725.3,468.3L726.0,468.3L726.8,468.3L727.5,468.3L728.2,468.3L728.9,468.3L729.6,468.3L730.3,468.3L731.0,468.3L731.7,468.3L732.5,468.3L733.2,468.3L733.9,468.3L734.6,468.3L735.3,468.3L736.0,468.3L736.7,468.3L737.4,468.3L738.1,468.3L738.9,468.3L739.6,468.3L740.3,468.3L741.0,468.3L741.7,468.3L742.4,468.3L743.1,468.3L743.9,468.3L744.6,468.3L745.3,468.3L746.0,468.3L746.7,468.3L747.4,468.3L748.1,468.3L748.8,468.3L749.5,468.3L750.3,468.3L751.0,468.3L751.7,468.3L752.4,468.3L753.1,468.3L753.8,468.3L754.5,468.3L755.2,468.3L756.0,468.3L756.7,468.3L757.4,468.3L758.1,468.3L758.8,468.3L759.5,468.3L760.2,468.3L761.0,468.3L761.7,468.3L762.4,468.3L763.1,468.3L763.8,468.3L764.5,468.3L765.2,468.3L765.9,468.2L766.6,468.2L767.4,468.2L768.1,468.2L768.8,468.2L769.5,468.2L770.2,468.2L770.9,468.2L771.6,468.1L772.4,468.1L773.1,468.1L773.8,468.0L774.5,467.9L775.2,467.8L775.9,467.7L776.6,467.5L777.3,467.2L778.0,466.9L778.8,466.5L779.5,466.1L780.2,465.5L780.9,464.9L781.6,464.2L782.3,463.4L783.0,462.6L783.8,461.7L784.5,460.9L785.2,460.1L785.9,459.3L786.6,458.7L787.3,458.2L788.0,457.8L788.7,457.6L789.5,457.5L790.2,457.5L790.9,457.5L791.6,457.6L792.3,457.7L793.0,457.8L793.7,457.7L794.4,457.6L795.1,457.2L795.9,456.8L796.6,456.1L797.3,455.1L798.0,454.0L798.7,452.7L799.4,451.1L800.1,449.2L800.9,447.2L801.6,444.9L802.3,442.3L803.0,439.5L803.7,436.5L804.4,433.2L805.1,429.6L805.8,425.8L806.5,421.8L807.3,417.6L808.0,413.2L808.7,408.7L809.4,404.0L810.1,399.2L810.8,394.5L811.5,389.7L812.2,384.9L813.0,380.3L813.7,375.8L814.4,371.5L815.1,367.4L815.8,363.5L816.5,359.9L817.2,356.6L818.0,353.5L818.7,350.7L819.4,348.2L820.1,345.9L820.8,343.9L821.5,342.1L822.2,340.6L822.9,339.2L823.6,338.0L824.4,337.0L825.1,336.2L825.8,335.5L826.5,334.9L827.2,334.4L827.9,334.0L828.6,333.6L829.4,333.3L830.1,333.1L830.8,332.9L831.5,332.7L832.2,332.6L832.9,332.5L833.6,332.4L834.3,332.4L835.0,332.3L835.8,332.3L836.5,332.2L837.2,332.2L837.9,332.2L838.6,332.1L839.3,332.1L840.0,332.1L840.8,332.1L841.5,332.1L842.2,332.1L842.9,332.1L843.6,332.1L844.3,332.1L845.0,332.1L845.7,332.1L846.5,332.1L847.2,332.1L847.9,332.1L848.6,332.1L849.3,332.1L850.0,332.1L850.7,332.1L851.4,332.1L852.1,332.1L852.9,332.1L853.6,332.1L854.3,332.1L855.0,332.1L855.7,332.1L856.4,332.1L857.1,332.1L857.9,332.1L858.6,332.1L859.3,332.1L860.0,332.1L860.7,332.1L861.4,332.1L862.1,332.1L862.8,332.1L863.5,332.1L864.3,332.1L865.0,332.1L865.7,332.1L866.4,332.1L867.1,332.1L867.8,332.1L868.5,332.1L869.2,332.1L870.0,332.1L870.7,332.1L871.4,332.1L872.1,332.1L872.8,332.1L873.5,332.1L874.2,332.1L875.0,332.1L875.7,332.1L876.4,332.1L877.1,332.1L877.8,332.1L878.5,332.1L879.2,332.1L879.9,332.1L880.6,332.1L881.4,332.1L882.1,332.1L882.8,332.1L883.5,332.1" fill="none" stroke="#111111" stroke-width="1"/>
<path d="M710.0,468.2a2.25,2.25 0 1,0 4.5,0a2.25,2.25 0 1,0 -4.5,0M712.7,468.6a2.25,2.25 0 1,0 4.5,0a2.25,2.25 0 1,0 -4.5,0M715.2,465.3a2.25,2.25 0 1,0 4.5,0a2.25,2.25 0 1,0 -4.5,0M717.7,466.4a2.25,2.25 0 1,0 4.5,0a2.25,2.25 0 1,0 -4.5,0M720.3,468.9a2.25,2.25 0 1,0 4.5,0a2.25,2.25 0 1,0 -4.5,0M723.1,466.4a2.25,2.25 0 1,0 4.5,0a2.25,2.25 0 1,0 -4.5,0M725.9,468.0a2.25,2.25 0 1,0 4.5,0a2.25,2.25 0 1,0 -4.5,0M728.4,468.7a2.25,2.25 0 1,0 4.5,0a2.25,2.25 0 1,0 -4.5,0M730.7,469.5a2.25,2.25 0 1,0 4.5,0a2.25,2.25 0 1,0 -4.5,0M733.1,468.0a2.25,2.25 0 1,0 4.5,0a2.25,2.25 0 1,0 -4.5,0M736.1,470.3a2.25,2.25 0 1,0 4.5,0a2.25,2.25 0 1,0 -4.5,0M738.4,467.8a2.25,2.25 0 1,0 4.5,0a2.25,2.25 0 1,0 -4.5,0M741.3,465.4a2.25,2.25 0 1,0 4.5,0a2.25,2.25 0 1,0 -4.5,0M743.8,467.3a2.25,2.25 0 1,0 4.5,0a2.25,2.25 0 1,0 -4.5,0M746.3,471.1a2.25,2.25 0 1,0 4.5,0a2.25,2.25 0 1,0 -4.5,0M748.6,469.8a2.25,2.25 0 1,0 4.5,0a2.25,2.25 0 1,0 -4.5,0M751.0,468.5a2.25,2.25 0 1,0 4.5,0a2.25,2.25 0 1,0 -4.5,0M753.6,468.5a2.25,2.25 0 1,0 4.5,0a2.25,2.25 0 1,0 -4.5,0M756.5,467.1a2.25,2.25 0 1,0 4.5,0a2.25,2.25 0 1,0 -4.5,0M759.3,471.8a2.25,2.25 0 1,0 4.5,0a2.25,2.25 0 1,0 -4.5,0M761.8,467.0a2.25,2.25 0 1,0 4.5,0a2.25,2.25 0 1,0 -4.5,0M764.4,469.0a2.25,2.25 0 1,0 4.5,0a2.25,2.25 0 1,0 -4.5,0M766.5,467.4a2.25,2.25 0 1,0 4.5,0a2.25,2.25 0 1,0 -4.5,0M769.1,467.5a2.25,2.25 0 1,0 4.5,0a2.25,2.25 0 1,0 -4.5,0M772.1,465.8a2.25,2.25 0 1,0 4.5,0a2.25,2.25 0 1,0 -4.5,0M774.6,469.8a2.25,2.25 0 1,0 4.5,0a2.25,2.25 0 1,0 -4.5,0M777.1,466.0a2.25,2.25 0 1,0 4.5,0a2.25,2.25 0 1,0 -4.5,0M779.3,465.9a2.25,2.25 0 1,0 4.5,0a2.25,2.25 0 1,0 -4.5,0M782.2,464.0a2.25,2.25 0 1,0 4.5,0a2.25,2.25 0 1,0 -4.5,0M784.8,459.5a2.25,2.25 0 1,0 4.5,0a2.25,2.25 0 1,0 -4.5,0M787.4,457.3a2.25,2.25 0 1,0 4.5,0a2.25,2.25 0 1,0 -4.5,0M789.7,456.3a2.25,2.25 0 1,0 4.5,0a2.25,2.25 0 1,0 -4.5,0M792.3,461.6a2.25,2.25 0 1,0 4.5,0a2.25,2.25 0 1,0 -4.5,0M794.8,452.9a2.25,2.25 0 1,0 4.5,0a2.25,2.25 0 1,0 -4.5,0M797.3,451.2a2.25,2.25 0 1,0 4.5,0a2.25,2.25 0 1,0 -4.5,0M799.6,441.2a2.25,2.25 0 1,0 4.5,0a2.25,2.25 0 1,0 -4.5,0M801.6,433.8a2.25,2.25 0 1,0 4.5,0a2.25,2.25 0 1,0 -4.5,0M802.5,428.2a2.25,2.25 0 1,0 4.5,0a2.25,2.25 0 1,0 -4.5,0M804.0,428.0a2.25,2.25 0 1,0 4.5,0a2.25,2.25 0 1,0 -4.5,0M804.9,418.6a2.25,2.25 0 1,0 4.5,0a2.25,2.25 0 1,0 -4.5,0M805.7,412.0a2.25,2.25 0 1,0 4.5,0a2.25,2.25 0 1,0 -4.5,0M807.2,406.8a2.25,2.25 0 1,0 4.5,0a2.25,2.25 0 1,0 -4.5,0M808.1,401.2a2.25,2.25 0 1,0 4.5,0a2.25,2.25 0 1,0 -4.5,0M808.7,391.6a2.25,2.25 0 1,0 4.5,0a2.25,2.25 0 1,0 -4.5,0M809.4,389.9a2.25,2.25 0 1,0 4.5,0a2.25,2.25 0 1,0 -4.5,0M810.3,382.1a2.25,2.25 0 1,0 4.5,0a2.25,2.25 0 1,0 -4.5,0M811.4,374.8a2.25,2.25 0 1,0 4.5,0a2.25,2.25 0 1,0 -4.5,0M812.2,370.9a2.25,2.25 0 1,0 4.5,0a2.25,2.25 0 1,0 -4.5,0M813.6,364.1a2.25,2.25 0 1,0 4.5,0a2.25,2.25 0 1,0 -4.5,0M814.4,360.9a2.25,2.25 0 1,0 4.5,0a2.25,2.25 0 1,0 -4.5,0M816.0,352.8a2.25,2.25 0 1,0 4.5,0a2.25,2.25 0 1,0 -4.5,0M817.1,346.0a2.25,2.25 0 1,0 4.5,0a2.25,2.25 0 1,0 -4.5,0M819.0,343.9a2.25,2.25 0 1,0 4.5,0a2.25,2.25 0 1,0 -4.5,0M821.4,336.1a2.25,2.25 0 1,0 4.5,0a2.25,2.25 0 1,0 -4.5,0M823.7,334.9a2.25,2.25 0 1,0 4.5,0a2.25,2.25 0 1,0 -4.5,0M826.2,333.2a2.25,2.25 0 1,0 4.5,0a2.25,2.25 0 1,0 -4.5,0M829.0,333.9a2.25,2.25 0 1,0 4.5,0a2.25,2.25 0 1,0 -4.5,0M831.7,334.0a2.25,2.25 0 1,0 4.5,0a2.25,2.25 0 1,0 -4.5,0M834.2,332.8a2.25,2.25 0 1,0 4.5,0a2.25,2.25 0 1,0 -4.5,0M836.8,332.0a2.25,2.25 0 1,0 4.5,0a2.25,2.25 0 1,0 -4.5,0M839.3,333.0a2.25,2.25 0 1,0 4.5,0a2.25,2.25 0 1,0 -4.5,0M841.7,332.6a2.25,2.25 0 1,0 4.5,0a2.25,2.25 0 1,0 -4.5,0M844.4,328.9a2.25,2.25 0 1,0 4.5,0a2.25,2.25 0 1,0 -4.5,0M847.0,331.8a2.25,2.25 0 1,0 4.5,0a2.25,2.25 0 1,0 -4.5,0M849.5,336.2a2.25,2.25 0 1,0 4.5,0a2.25,2.25 0 1,0 -4.5,0M852.2,334.3a2.25,2.25 0 1,0 4.5,0a2.25,2.25 0 1,0 -4.5,0M854.8,332.1a2.25,2.25 0 1,0 4.5,0a2.25,2.25 0 1,0 -4.5,0M857.2,334.1a2.25,2.25 0 1,0 4.5,0a2.25,2.25 0 1,0 -4.5,0M860.1,332.5a2.25,2.25 0 1,0 4.5,0a2.25,2.25 0 1,0 -4.5,0M862.5,328.9a2.25,2.25 0 1,0 4.5,0a2.25,2.25 0 1,0 -4.5,0M864.8,335.2a2.25,2.25 0 1,0 4.5,0a2.25,2.25 0 1,0 -4.5,0M867.6,328.7a2.25,2.25 0 1,0 4.5,0a2.25,2.25 0 1,0 -4.5,0M869.9,333.3a2.25,2.25 0 1,0 4.5,0a2.25,2.25 0 1,0 -4.5,0M872.4,332.7a2.25,2.25 0 1,0 4.5,0a2.25,2.25 0 1,0 -4.5,0M875.1,331.8a2.25,2.25 0 1,0 4.5,0a2.25,2.25 0 1,0 -4.5,0M877.5,333.7a2.25,2.25 0 1,0 4.5,0a2.25,2.25 0 1,0 -4.5,0M880.6,334.9a2.25,2.25 0 1,0 4.5,0a2.25,2.25 0 1,0 -4.5,0" fill="#111111"/>
<path d="M729.6,468.3L730.3,468.3L731.0,468.3L731.7,468.3L732.5,468.3L733.2,468.3L733.9,468.3L734.6,468.3L735.3,468.3L736.0,468.3L736.7,468.3L737.4,468.3L738.1,468.3L738.9,468.3L739.6,468.3L740.3,468.3L741.0,468.3L741.7,468.3L742.4,468.3L743.1,468.3L743.9,468.3L744.6,468.3L745.3,468.3L746.0,468.3L746.7,468.3L747.4,468.3L748.1,468.3L748.8,468.3L749.5,468.3L750.3,468.3L751.0,468.3L751.7,468.3L752.4,468.3L753.1,468.3L753.8,468.3L754.5,468.3L755.2,468.3L756.0,468.3L756.7,468.3L757.4,468.3L758.1,468.3L758.8,468.3L759.5,468.3L760.2,468.3L761.0,468.3L761.7,468.3L762.4,468.3L763.1,468.3L763.8,468.3L764.5,468.3L765.2,468.3L765.9,468.3L766.6,468.3L767.4,468.3L768.1,468.3L768.8,468.3L769.5,468.3L770.2,468.3L770.9,468.3L771.6,468.3L772.4,468.3L773.1,468.3L773.8,468.3L774.5,468.3L775.2,468.3L775.9,468.3L776.6,468.3L777.3,468.3L778.0,468.3L778.8,468.3L779.5,468.3L780.2,468.3L780.9,468.3L781.6,468.3L782.3,468.3L783.0,468.3L783.8,468.3L784.5,468.3L785.2,468.3L785.9,468.3L786.6,468.3L787.3,468.3L788.0,468.3L788.7,468.3L789.5,468.3L790.2,468.3L790.9,468.3L791.6,468.2L792.3,468.2L793.0,468.2L793.7,468.2L794.4,468.2L795.1,468.2L795.9,468.1L796.6,468.1L797.3,468.1L798.0,468.0L798.7,468.0L799.4,467.9L800.1,467.9L800.9,467.8L801.6,467.7L802.3,467.6L803.0,467.5L803.7,467.3L804.4,467.1L805.1,466.9L805.8,466.7L806.5,466.4L807.3,466.1L808.0,465.7L808.7,465.2L809.4,464.6L810.1,464.0L810.8,463.2L811.5,462.3L812.2,461.3L813.0,460.1L813.7,458.7L814.4,457.0L815.1,455.2L815.8,453.0L816.5,450.5L817.2,447.7L818.0,444.5L818.7,440.9L819.4,436.9L820.1,432.5L820.8,427.6L821.5,422.4L822.2,416.7L822.9,410.8L823.6,404.6L824.4,398.3L825.1,391.9L825.8,385.5L826.5,379.4L827.2,373.5L827.9,368.0L828.6,362.9L829.4,358.3L830.1,354.2L830.8,350.6L831.5,347.5L832.2,344.8L832.9,342.6L833.6,340.7L834.3,339.2L835.0,338.0L835.8,337.0L836.5,336.2L837.2,335.6L837.9,335.1L838.6,334.7L839.3,334.4L840.0,334.2L840.8,334.0L841.5,333.8L842.2,333.7L842.9,333.7L843.6,333.6L844.3,333.6L845.0,333.5L845.7,333.5L846.5,333.5L847.2,333.5L847.9,333.4L848.6,333.4L849.3,333.4L850.0,333.4L850.7,333.4L851.4,333.4L852.1,333.4L852.9,333.4L853.6,333.4L854.3,333.4L855.0,333.4L855.7,333.4L856.4,333.4L857.1,333.4L857.9,333.4L858.6,333.4L859.3,333.4L860.0,333.4L860.7,333.4L861.4,333.4L862.1,333.4L862.8,333.4L863.5,333.4L864.3,333.4L865.0,333.4L865.7,333.4L866.4,333.4L867.1,333.4L867.8,333.4L868.5,333.4L869.2,333.4L870.0,333.4L870.7,333.4L871.4,333.4L872.1,333.4L872.8,333.4L873.5,333.4L874.2,333.4L875.0,333.4L875.7,333.4L876.4,333.4L877.1,333.4L877.8,333.4L878.5,333.4L879.2,333.4L879.9,333.4L880.6,333.4L881.4,333.4L882.1,333.4L882.8,333.4L883.5,333.4" fill="none" stroke="#e01010" stroke-width="1"/>
<path d="M727.1,468.8a2.25,2.25 0 1,0 4.5,0a2.25,2.25 0 1,0 -4.5,0M729.7,470.6a2.25,2.25 0 1,0 4.5,0a2.25,2.25 0 1,0 -4.5,0M732.7,467.2a2.25,2.25 0 1,0 4.5,0a2.25,2.25 0 1,0 -4.5,0M735.3,468.5a2.25,2.25 0 1,0 4.5,0a2.25,2.25 0 1,0 -4.5,0M737.5,473.1a2.25,2.25 0 1,0 4.5,0a2.25,2.25 0 1,0 -4.5,0M740.4,467.9a2.25,2.25 0 1,0 4.5,0a2.25,2.25 0 1,0 -4.5,0M742.5,470.1a2.25,2.25 0 1,0 4.5,0a2.25,2.25 0 1,0 -4.5,0M745.2,467.5a2.25,2.25 0 1,0 4.5,0a2.25,2.25 0 1,0 -4.5,0M747.7,469.4a2.25,2.25 0 1,0 4.5,0a2.25,2.25 0 1,0 -4.5,0M750.1,466.0a2.25,2.25 0 1,0 4.5,0a2.25,2.25 0 1,0 -4.5,0M753.0,468.6a2.25,2.25 0 1,0 4.5,0a2.25,2.25 0 1,0 -4.5,0M755.5,468.2a2.25,2.25 0 1,0 4.5,0a2.25,2.25 0 1,0 -4.5,0M758.2,468.9a2.25,2.25 0 1,0 4.5,0a2.25,2.25 0 1,0 -4.5,0M761.0,468.3a2.25,2.25 0 1,0 4.5,0a2.25,2.25 0 1,0 -4.5,0M763.4,467.6a2.25,2.25 0 1,0 4.5,0a2.25,2.25 0 1,0 -4.5,0M765.7,468.4a2.25,2.25 0 1,0 4.5,0a2.25,2.25 0 1,0 -4.5,0M768.1,468.1a2.25,2.25 0 1,0 4.5,0a2.25,2.25 0 1,0 -4.5,0M770.7,469.5a2.25,2.25 0 1,0 4.5,0a2.25,2.25 0 1,0 -4.5,0M773.5,465.8a2.25,2.25 0 1,0 4.5,0a2.25,2.25 0 1,0 -4.5,0M775.9,469.9a2.25,2.25 0 1,0 4.5,0a2.25,2.25 0 1,0 -4.5,0M778.4,466.5a2.25,2.25 0 1,0 4.5,0a2.25,2.25 0 1,0 -4.5,0M781.3,469.3a2.25,2.25 0 1,0 4.5,0a2.25,2.25 0 1,0 -4.5,0M783.5,466.0a2.25,2.25 0 1,0 4.5,0a2.25,2.25 0 1,0 -4.5,0M786.3,467.4a2.25,2.25 0 1,0 4.5,0a2.25,2.25 0 1,0 -4.5,0M788.7,466.1a2.25,2.25 0 1,0 4.5,0a2.25,2.25 0 1,0 -4.5,0M791.7,469.1a2.25,2.25 0 1,0 4.5,0a2.25,2.25 0 1,0 -4.5,0M793.8,467.8a2.25,2.25 0 1,0 4.5,0a2.25,2.25 0 1,0 -4.5,0M796.8,468.4a2.25,2.25 0 1,0 4.5,0a2.25,2.25 0 1,0 -4.5,0M799.1,468.8a2.25,2.25 0 1,0 4.5,0a2.25,2.25 0 1,0 -4.5,0M802.0,465.5a2.25,2.25 0 1,0 4.5,0a2.25,2.25 0 1,0 -4.5,0M804.2,465.0a2.25,2.25 0 1,0 4.5,0a2.25,2.25 0 1,0 -4.5,0M806.7,463.4a2.25,2.25 0 1,0 4.5,0a2.25,2.25 0 1,0 -4.5,0M809.2,461.9a2.25,2.25 0 1,0 4.5,0a2.25,2.25 0 1,0 -4.5,0M811.8,457.0a2.25,2.25 0 1,0 4.5,0a2.25,2.25 0 1,0 -4.5,0M814.3,450.7a2.25,2.25 0 1,0 4.5,0a2.25,2.25 0 1,0 -4.5,0M815.9,440.5a2.25,2.25 0 1,0 4.5,0a2.25,2.25 0 1,0 -4.5,0M817.2,435.9a2.25,2.25 0 1,0 4.5,0a2.25,2.25 0 1,0 -4.5,0M817.9,428.8a2.25,2.25 0 1,0 4.5,0a2.25,2.25 0 1,0 -4.5,0M818.9,421.3a2.25,2.25 0 1,0 4.5,0a2.25,2.25 0 1,0 -4.5,0M819.9,417.4a2.25,2.25 0 1,0 4.5,0a2.25,2.25 0 1,0 -4.5,0M820.4,415.2a2.25,2.25 0 1,0 4.5,0a2.25,2.25 0 1,0 -4.5,0M821.1,404.9a2.25,2.25 0 1,0 4.5,0a2.25,2.25 0 1,0 -4.5,0M822.2,401.1a2.25,2.25 0 1,0 4.5,0a2.25,2.25 0 1,0 -4.5,0M822.8,392.7a2.25,2.25 0 1,0 4.5,0a2.25,2.25 0 1,0 -4.5,0M823.2,390.0a2.25,2.25 0 1,0 4.5,0a2.25,2.25 0 1,0 -4.5,0M824.3,381.7a2.25,2.25 0 1,0 4.5,0a2.25,2.25 0 1,0 -4.5,0M824.6,374.5a2.25,2.25 0 1,0 4.5,0a2.25,2.25 0 1,0 -4.5,0M825.5,372.2a2.25,2.25 0 1,0 4.5,0a2.25,2.25 0 1,0 -4.5,0M826.1,364.6a2.25,2.25 0 1,0 4.5,0a2.25,2.25 0 1,0 -4.5,0M826.8,358.2a2.25,2.25 0 1,0 4.5,0a2.25,2.25 0 1,0 -4.5,0M827.7,353.3a2.25,2.25 0 1,0 4.5,0a2.25,2.25 0 1,0 -4.5,0M828.9,349.1a2.25,2.25 0 1,0 4.5,0a2.25,2.25 0 1,0 -4.5,0M830.3,341.1a2.25,2.25 0 1,0 4.5,0a2.25,2.25 0 1,0 -4.5,0M832.7,341.0a2.25,2.25 0 1,0 4.5,0a2.25,2.25 0 1,0 -4.5,0M835.0,335.3a2.25,2.25 0 1,0 4.5,0a2.25,2.25 0 1,0 -4.5,0M837.7,332.9a2.25,2.25 0 1,0 4.5,0a2.25,2.25 0 1,0 -4.5,0M840.1,334.9a2.25,2.25 0 1,0 4.5,0a2.25,2.25 0 1,0 -4.5,0M843.1,333.1a2.25,2.25 0 1,0 4.5,0a2.25,2.25 0 1,0 -4.5,0M845.7,334.6a2.25,2.25 0 1,0 4.5,0a2.25,2.25 0 1,0 -4.5,0M848.3,333.8a2.25,2.25 0 1,0 4.5,0a2.25,2.25 0 1,0 -4.5,0M850.4,333.5a2.25,2.25 0 1,0 4.5,0a2.25,2.25 0 1,0 -4.5,0M853.0,333.3a2.25,2.25 0 1,0 4.5,0a2.25,2.25 0 1,0 -4.5,0M855.7,334.5a2.25,2.25 0 1,0 4.5,0a2.25,2.25 0 1,0 -4.5,0M858.2,333.4a2.25,2.25 0 1,0 4.5,0a2.25,2.25 0 1,0 -4.5,0M860.5,333.5a2.25,2.25 0 1,0 4.5,0a2.25,2.25 0 1,0 -4.5,0M863.3,332.7a2.25,2.25 0 1,0 4.5,0a2.25,2.25 0 1,0 -4.5,0M865.7,332.1a2.25,2.25 0 1,0 4.5,0a2.25,2.25 0 1,0 -4.5,0M868.3,333.2a2.25,2.25 0 1,0 4.5,0a2.25,2.25 0 1,0 -4.5,0M871.1,336.0a2.25,2.25 0 1,0 4.5,0a2.25,2.25 0 1,0 -4.5,0M873.7,333.9a2.25,2.25 0 1,0 4.5,0a2.25,2.25 0 1,0 -4.5,0M876.3,332.2a2.25,2.25 0 1,0 4.5,0a2.25,2.25 0 1,0 -4.5,0M878.7,334.5a2.25,2.25 0 1,0 4.5,0a2.25,2.25 0 1,0 -4.5,0" fill="#e01010"/>
<path d="M726.8,467.8L727.5,467.8L728.2,467.8L728.9,467.8L729.6,467.8L730.3,467.8L731.0,467.8L731.7,467.8L732.5,467.8L733.2,467.8L733.9,467.8L734.6,467.8L735.3,467.8L736.0,467.8L736.7,467.8L737.4,467.8L738.1,467.8L738.9,467.8L739.6,467.8L740.3,467.8L741.0,467.8L741.7,467.8L742.4,467.8L743.1,467.8L743.9,467.8L744.6,467.8L745.3,467.8L746.0,467.8L746.7,467.8L747.4,467.8L748.1,467.8L748.8,467.8L749.5,467.8L750.3,467.8L751.0,467.8L751.7,467.8L752.4,467.8L753.1,467.8L753.8,467.8L754.5,467.7L755.2,467.7L756.0,467.7L756.7,467.7L757.4,467.7L758.1,467.7L758.8,467.7L759.5,467.7L760.2,467.7L761.0,467.7L761.7,467.7L762.4,467.7L763.1,467.7L763.8,467.7L764.5,467.7L765.2,467.7L765.9,467.7L766.6,467.6L767.4,467.6L768.1,467.6L768.8,467.6L769.5,467.6L770.2,467.5L770.9,467.5L771.6,467.5L772.4,467.4L773.1,467.4L773.8,467.3L774.5,467.3L775.2,467.2L775.9,467.2L776.6,467.1L777.3,467.0L778.0,466.9L778.8,466.8L779.5,466.7L780.2,466.5L780.9,466.4L781.6,466.2L782.3,466.0L783.0,465.8L783.8,465.5L784.5,465.2L785.2,464.9L785.9,464.6L786.6,464.2L787.3,463.7L788.0,463.2L788.7,462.7L789.5,462.0L790.2,461.3L790.9,460.6L791.6,459.7L792.3,458.7L793.0,457.7L793.7,456.5L794.4,455.2L795.1,453.7L795.9,452.1L796.6,450.3L797.3,448.4L798.0,446.2L798.7,443.9L799.4,441.4L800.1,438.6L800.9,435.7L801.6,432.5L802.3,429.1L803.0,425.5L803.7,421.7L804.4,417.7L805.1,413.6L805.8,409.3L806.5,404.9L807.3,400.4L808.0,395.8L808.7,391.3L809.4,386.8L810.1,382.3L810.8,378.0L811.5,373.8L812.2,369.9L813.0,366.1L813.7,362.6L814.4,359.3L815.1,356.3L815.8,353.5L816.5,351.0L817.2,348.8L818.0,346.8L818.7,345.0L819.4,343.5L820.1,342.1L820.8,340.9L821.5,339.9L822.2,339.1L822.9,338.3L823.6,337.7L824.4,337.2L825.1,336.7L825.8,336.3L826.5,336.0L827.2,335.7L827.9,335.5L828.6,335.3L829.4,335.2L830.1,335.1L830.8,335.0L831.5,334.9L832.2,334.8L832.9,334.7L833.6,334.7L834.3,334.6L835.0,334.6L835.8,334.6L836.5,334.6L837.2,334.5L837.9,334.5L838.6,334.5L839.3,334.5L840.0,334.5L840.8,334.5L841.5,334.5L842.2,334.5L842.9,334.5L843.6,334.5L844.3,334.5L845.0,334.5L845.7,334.5L846.5,334.5L847.2,334.5L847.9,334.5L848.6,334.5L849.3,334.5L850.0,334.5L850.7,334.5L851.4,334.5L852.1,334.5L852.9,334.5L853.6,334.5L854.3,334.5L855.0,334.5L855.7,334.5L856.4,334.5L857.1,334.5L857.9,334.5L858.6,334.5L859.3,334.5L860.0,334.5L860.7,334.5L861.4,334.5L862.1,334.5L862.8,334.5L863.5,334.5L864.3,334.5L865.0,334.5L865.7,334.5L866.4,334.5L867.1,334.5L867.8,334.5L868.5,334.5L869.2,334.5L870.0,334.5L870.7,334.5L871.4,334.5L872.1,334.5L872.8,334.5L873.5,334.5L874.2,334.5L875.0,334.5L875.7,334.5L876.4,334.5L877.1,334.5L877.8,334.5L878.5,334.5L879.2,334.5L879.9,334.5L880.6,334.5L881.4,334.5L882.1,334.5L882.8,334.5L883.5,334.5L884.2,334.5L884.9,334.5L885.6,334.5L886.4,334.5" fill="none" stroke="#0828f0" stroke-width="1"/>
<path d="M724.8,466.9a2.25,2.25 0 1,0 4.5,0a2.25,2.25 0 1,0 -4.5,0M726.4,466.6a2.25,2.25 0 1,0 4.5,0a2.25,2.25 0 1,0 -4.5,0M727.8,466.8a2.25,2.25 0 1,0 4.5,0a2.25,2.25 0 1,0 -4.5,0M729.9,469.5a2.25,2.25 0 1,0 4.5,0a2.25,2.25 0 1,0 -4.5,0M731.7,467.6a2.25,2.25 0 1,0 4.5,0a2.25,2.25 0 1,0 -4.5,0M733.3,468.2a2.25,2.25 0 1,0 4.5,0a2.25,2.25 0 1,0 -4.5,0M735.1,466.9a2.25,2.25 0 1,0 4.5,0a2.25,2.25 0 1,0 -4.5,0M737.1,469.2a2.25,2.25 0 1,0 4.5,0a2.25,2.25 0 1,0 -4.5,0M738.7,466.7a2.25,2.25 0 1,0 4.5,0a2.25,2.25 0 1,0 -4.5,0M740.5,468.6a2.25,2.25 0 1,0 4.5,0a2.25,2.25 0 1,0 -4.5,0M742.0,467.3a2.25,2.25 0 1,0 4.5,0a2.25,2.25 0 1,0 -4.5,0M743.9,467.7a2.25,2.25 0 1,0 4.5,0a2.25,2.25 0 1,0 -4.5,0M745.5,467.1a2.25,2.25 0 1,0 4.5,0a2.25,2.25 0 1,0 -4.5,0M747.5,468.8a2.25,2.25 0 1,0 4.5,0a2.25,2.25 0 1,0 -4.5,0M749.3,468.2a2.25,2.25 0 1,0 4.5,0a2.25,2.25 0 1,0 -4.5,0M750.7,468.7a2.25,2.25 0 1,0 4.5,0a2.25,2.25 0 1,0 -4.5,0M753.0,467.8a2.25,2.25 0 1,0 4.5,0a2.25,2.25 0 1,0 -4.5,0M754.6,468.8a2.25,2.25 0 1,0 4.5,0a2.25,2.25 0 1,0 -4.5,0M756.4,466.3a2.25,2.25 0 1,0 4.5,0a2.25,2.25 0 1,0 -4.5,0M757.9,467.1a2.25,2.25 0 1,0 4.5,0a2.25,2.25 0 1,0 -4.5,0M759.6,467.9a2.25,2.25 0 1,0 4.5,0a2.25,2.25 0 1,0 -4.5,0M761.4,466.2a2.25,2.25 0 1,0 4.5,0a2.25,2.25 0 1,0 -4.5,0M763.5,466.6a2.25,2.25 0 1,0 4.5,0a2.25,2.25 0 1,0 -4.5,0M765.1,467.8a2.25,2.25 0 1,0 4.5,0a2.25,2.25 0 1,0 -4.5,0M766.9,468.2a2.25,2.25 0 1,0 4.5,0a2.25,2.25 0 1,0 -4.5,0M768.7,469.0a2.25,2.25 0 1,0 4.5,0a2.25,2.25 0 1,0 -4.5,0M770.5,466.9a2.25,2.25 0 1,0 4.5,0a2.25,2.25 0 1,0 -4.5,0M772.1,467.0a2.25,2.25 0 1,0 4.5,0a2.25,2.25 0 1,0 -4.5,0M774.1,467.5a2.25,2.25 0 1,0 4.5,0a2.25,2.25 0 1,0 -4.5,0M775.5,465.8a2.25,2.25 0 1,0 4.5,0a2.25,2.25 0 1,0 -4.5,0M777.2,466.8a2.25,2.25 0 1,0 4.5,0a2.25,2.25 0 1,0 -4.5,0M779.4,464.8a2.25,2.25 0 1,0 4.5,0a2.25,2.25 0 1,0 -4.5,0M781.1,466.0a2.25,2.25 0 1,0 4.5,0a2.25,2.25 0 1,0 -4.5,0M782.8,463.9a2.25,2.25 0 1,0 4.5,0a2.25,2.25 0 1,0 -4.5,0M784.6,462.6a2.25,2.25 0 1,0 4.5,0a2.25,2.25 0 1,0 -4.5,0M786.2,461.4a2.25,2.25 0 1,0 4.5,0a2.25,2.25 0 1,0 -4.5,0M788.4,461.0a2.25,2.25 0 1,0 4.5,0a2.25,2.25 0 1,0 -4.5,0M789.9,459.0a2.25,2.25 0 1,0 4.5,0a2.25,2.25 0 1,0 -4.5,0M791.8,455.2a2.25,2.25 0 1,0 4.5,0a2.25,2.25 0 1,0 -4.5,0M793.3,452.7a2.25,2.25 0 1,0 4.5,0a2.25,2.25 0 1,0 -4.5,0M795.0,447.3a2.25,2.25 0 1,0 4.5,0a2.25,2.25 0 1,0 -4.5,0M797.0,442.4a2.25,2.25 0 1,0 4.5,0a2.25,2.25 0 1,0 -4.5,0M798.4,438.0a2.25,2.25 0 1,0 4.5,0a2.25,2.25 0 1,0 -4.5,0M799.8,429.7a2.25,2.25 0 1,0 4.5,0a2.25,2.25 0 1,0 -4.5,0M801.4,425.1a2.25,2.25 0 1,0 4.5,0a2.25,2.25 0 1,0 -4.5,0M802.4,417.1a2.25,2.25 0 1,0 4.5,0a2.25,2.25 0 1,0 -4.5,0M803.2,410.0a2.25,2.25 0 1,0 4.5,0a2.25,2.25 0 1,0 -4.5,0M804.0,405.4a2.25,2.25 0 1,0 4.5,0a2.25,2.25 0 1,0 -4.5,0M805.0,399.8a2.25,2.25 0 1,0 4.5,0a2.25,2.25 0 1,0 -4.5,0M806.1,392.8a2.25,2.25 0 1,0 4.5,0a2.25,2.25 0 1,0 -4.5,0M806.9,387.3a2.25,2.25 0 1,0 4.5,0a2.25,2.25 0 1,0 -4.5,0M808.3,380.3a2.25,2.25 0 1,0 4.5,0a2.25,2.25 0 1,0 -4.5,0M808.8,375.2a2.25,2.25 0 1,0 4.5,0a2.25,2.25 0 1,0 -4.5,0M809.9,371.2a2.25,2.25 0 1,0 4.5,0a2.25,2.25 0 1,0 -4.5,0M811.4,364.2a2.25,2.25 0 1,0 4.5,0a2.25,2.25 0 1,0 -4.5,0M812.3,360.1a2.25,2.25 0 1,0 4.5,0a2.25,2.25 0 1,0 -4.5,0M813.7,355.4a2.25,2.25 0 1,0 4.5,0a2.25,2.25 0 1,0 -4.5,0M815.5,345.4a2.25,2.25 0 1,0 4.5,0a2.25,2.25 0 1,0 -4.5,0M817.1,344.0a2.25,2.25 0 1,0 4.5,0a2.25,2.25 0 1,0 -4.5,0M818.7,340.0a2.25,2.25 0 1,0 4.5,0a2.25,2.25 0 1,0 -4.5,0M820.5,337.9a2.25,2.25 0 1,0 4.5,0a2.25,2.25 0 1,0 -4.5,0M822.8,337.6a2.25,2.25 0 1,0 4.5,0a2.25,2.25 0 1,0 -4.5,0M824.1,336.1a2.25,2.25 0 1,0 4.5,0a2.25,2.25 0 1,0 -4.5,0M825.8,334.3a2.25,2.25 0 1,0 4.5,0a2.25,2.25 0 1,0 -4.5,0M827.7,333.2a2.25,2.25 0 1,0 4.5,0a2.25,2.25 0 1,0 -4.5,0M829.7,335.4a2.25,2.25 0 1,0 4.5,0a2.25,2.25 0 1,0 -4.5,0M831.4,332.8a2.25,2.25 0 1,0 4.5,0a2.25,2.25 0 1,0 -4.5,0M833.1,335.8a2.25,2.25 0 1,0 4.5,0a2.25,2.25 0 1,0 -4.5,0M835.0,333.1a2.25,2.25 0 1,0 4.5,0a2.25,2.25 0 1,0 -4.5,0M836.6,334.1a2.25,2.25 0 1,0 4.5,0a2.25,2.25 0 1,0 -4.5,0M838.5,335.0a2.25,2.25 0 1,0 4.5,0a2.25,2.25 0 1,0 -4.5,0M839.9,335.1a2.25,2.25 0 1,0 4.5,0a2.25,2.25 0 1,0 -4.5,0M842.2,333.7a2.25,2.25 0 1,0 4.5,0a2.25,2.25 0 1,0 -4.5,0M843.6,333.7a2.25,2.25 0 1,0 4.5,0a2.25,2.25 0 1,0 -4.5,0M845.3,334.6a2.25,2.25 0 1,0 4.5,0a2.25,2.25 0 1,0 -4.5,0M847.1,337.0a2.25,2.25 0 1,0 4.5,0a2.25,2.25 0 1,0 -4.5,0M849.1,334.8a2.25,2.25 0 1,0 4.5,0a2.25,2.25 0 1,0 -4.5,0M850.7,333.3a2.25,2.25 0 1,0 4.5,0a2.25,2.25 0 1,0 -4.5,0M852.3,334.1a2.25,2.25 0 1,0 4.5,0a2.25,2.25 0 1,0 -4.5,0M854.5,333.9a2.25,2.25 0 1,0 4.5,0a2.25,2.25 0 1,0 -4.5,0M856.1,334.1a2.25,2.25 0 1,0 4.5,0a2.25,2.25 0 1,0 -4.5,0M858.1,332.5a2.25,2.25 0 1,0 4.5,0a2.25,2.25 0 1,0 -4.5,0M859.6,334.1a2.25,2.25 0 1,0 4.5,0a2.25,2.25 0 1,0 -4.5,0M861.1,334.0a2.25,2.25 0 1,0 4.5,0a2.25,2.25 0 1,0 -4.5,0M863.0,333.9a2.25,2.25 0 1,0 4.5,0a2.25,2.25 0 1,0 -4.5,0M864.8,334.1a2.25,2.25 0 1,0 4.5,0a2.25,2.25 0 1,0 -4.5,0M866.7,333.3a2.25,2.25 0 1,0 4.5,0a2.25,2.25 0 1,0 -4.5,0M868.4,335.5a2.25,2.25 0 1,0 4.5,0a2.25,2.25 0 1,0 -4.5,0M870.1,335.4a2.25,2.25 0 1,0 4.5,0a2.25,2.25 0 1,0 -4.5,0M871.9,334.6a2.25,2.25 0 1,0 4.5,0a2.25,2.25 0 1,0 -4.5,0M873.5,334.9a2.25,2.25 0 1,0 4.5,0a2.25,2.25 0 1,0 -4.5,0M875.3,332.1a2.25,2.25 0 1,0 4.5,0a2.25,2.25 0 1,0 -4.5,0M877.3,335.7a2.25,2.25 0 1,0 4.5,0a2.25,2.25 0 1,0 -4.5,0M878.9,335.8a2.25,2.25 0 1,0 4.5,0a2.25,2.25 0 1,0 -4.5,0M880.7,334.5a2.25,2.25 0 1,0 4.5,0a2.25,2.25 0 1,0 -4.5,0M882.5,333.5a2.25,2.25 0 1,0 4.5,0a2.25,2.25 0 1,0 -4.5,0" fill="#0828f0"/>
<path d="M726.8,468.6L727.5,468.6L728.2,468.6L728.9,468.6L729.6,468.6L730.3,468.6L731.0,468.6L731.7,468.6L732.5,468.6L733.2,468.6L733.9,468.6L734.6,468.6L735.3,468.6L736.0,468.6L736.7,468.6L737.4,468.6L738.1,468.6L738.9,468.6L739.6,468.6L740.3,468.6L741.0,468.6L741.7,468.6L742.4,468.6L743.1,468.6L743.9,468.6L744.6,468.6L745.3,468.6L746.0,468.6L746.7,468.6L747.4,468.6L748.1,468.6L748.8,468.6L749.5,468.6L750.3,468.6L751.0,468.6L751.7,468.6L752.4,468.6L753.1,468.6L753.8,468.6L754.5,468.6L755.2,468.6L756.0,468.6L756.7,468.6L757.4,468.6L758.1,468.6L758.8,468.6L759.5,468.6L760.2,468.6L761.0,468.6L761.7,468.6L762.4,468.6L763.1,468.6L763.8,468.6L764.5,468.6L765.2,468.6L765.9,468.6L766.6,468.6L767.4,468.6L768.1,468.6L768.8,468.6L769.5,468.6L770.2,468.6L770.9,468.6L771.6,468.6L772.4,468.6L773.1,468.6L773.8,468.6L774.5,468.6L775.2,468.6L775.9,468.6L776.6,468.6L777.3,468.6L778.0,468.6L778.8,468.6L779.5,468.6L780.2,468.6L780.9,468.6L781.6,468.6L782.3,468.6L783.0,468.6L783.8,468.6L784.5,468.6L785.2,468.6L785.9,468.6L786.6,468.6L787.3,468.6L788.0,468.6L788.7,468.6L789.5,468.6L790.2,468.6L790.9,468.6L791.6,468.6L792.3,468.6L793.0,468.6L793.7,468.6L794.4,468.6L795.1,468.6L795.9,468.6L796.6,468.6L797.3,468.6L798.0,468.6L798.7,468.6L799.4,468.6L800.1,468.6L800.9,468.6L801.6,468.5L802.3,468.5L803.0,468.5L803.7,468.5L804.4,468.5L805.1,468.5L805.8,468.5L806.5,468.5L807.3,468.5L808.0,468.5L808.7,468.5L809.4,468.4L810.1,468.4L810.8,468.4L811.5,468.3L812.2,468.3L813.0,468.3L813.7,468.2L814.4,468.1L815.1,468.1L815.8,468.0L816.5,467.8L817.2,467.7L818.0,467.6L818.7,467.4L819.4,467.2L820.1,466.9L820.8,466.6L821.5,466.3L822.2,465.9L822.9,465.4L823.6,464.9L824.4,464.2L825.1,463.5L825.8,462.7L826.5,461.8L827.2,460.7L827.9,459.5L828.6,458.2L829.4,456.7L830.1,455.0L830.8,453.1L831.5,451.1L832.2,448.8L832.9,446.3L833.6,443.7L834.3,440.8L835.0,437.8L835.8,434.5L836.5,431.1L837.2,427.5L837.9,423.8L838.6,420.0L839.3,416.2L840.0,412.2L840.8,408.2L841.5,404.3L842.2,400.3L842.9,396.4L843.6,392.6L844.3,388.8L845.0,385.2L845.7,381.7L846.5,378.4L847.2,375.2L847.9,372.1L848.6,369.2L849.3,366.5L850.0,364.0L850.7,361.6L851.4,359.4L852.1,357.3L852.9,355.4L853.6,353.6L854.3,352.0L855.0,350.5L855.7,349.1L856.4,347.8L857.1,346.7L857.9,345.6L858.6,344.7L859.3,343.8L860.0,343.0L860.7,342.2L861.4,341.6L862.1,341.0L862.8,340.4L863.5,339.9L864.3,339.5L865.0,339.1L865.7,338.7L866.4,338.4L867.1,338.1L867.8,337.8L868.5,337.6L869.2,337.3L870.0,337.1L870.7,336.9L871.4,336.8L872.1,336.6L872.8,336.5L873.5,336.4L874.2,336.3L875.0,336.2L875.7,336.1L876.4,336.0L877.1,335.9L877.8,335.9L878.5,335.8L879.2,335.8L879.9,335.7L880.6,335.7L881.4,335.6L882.1,335.6L882.8,335.6L883.5,335.5L884.2,335.5L884.9,335.5L885.6,335.5L886.4,335.4L887.1,335.4L887.8,335.4L888.5,335.4L889.2,335.4L889.9,335.4L890.6,335.4L891.3,335.3L892.0,335.3L892.8,335.3L893.5,335.3L894.2,335.3L894.9,335.3L895.6,335.3L896.3,335.3L897.0,335.3L897.8,335.3L898.5,335.3L899.2,335.3L899.9,335.3L900.6,335.3L901.3,335.3L902.0,335.3L902.7,335.3L903.5,335.3L904.2,335.3L904.9,335.3L905.6,335.3L906.3,335.3L907.0,335.3L907.7,335.3L908.4,335.3L909.1,335.3L909.9,335.3L910.6,335.3L911.3,335.3L912.0,335.3" fill="none" stroke="#e818d8" stroke-width="1"/>
<path d="M724.8,467.8a2.25,2.25 0 1,0 4.5,0a2.25,2.25 0 1,0 -4.5,0M726.0,469.7a2.25,2.25 0 1,0 4.5,0a2.25,2.25 0 1,0 -4.5,0M727.8,468.9a2.25,2.25 0 1,0 4.5,0a2.25,2.25 0 1,0 -4.5,0M729.8,469.9a2.25,2.25 0 1,0 4.5,0a2.25,2.25 0 1,0 -4.5,0M731.6,467.9a2.25,2.25 0 1,0 4.5,0a2.25,2.25 0 1,0 -4.5,0M733.6,468.6a2.25,2.25 0 1,0 4.5,0a2.25,2.25 0 1,0 -4.5,0M735.3,467.5a2.25,2.25 0 1,0 4.5,0a2.25,2.25 0 1,0 -4.5,0M736.7,470.0a2.25,2.25 0 1,0 4.5,0a2.25,2.25 0 1,0 -4.5,0M738.4,468.1a2.25,2.25 0 1,0 4.5,0a2.25,2.25 0 1,0 -4.5,0M740.5,467.9a2.25,2.25 0 1,0 4.5,0a2.25,2.25 0 1,0 -4.5,0M742.4,468.7a2.25,2.25 0 1,0 4.5,0a2.25,2.25 0 1,0 -4.5,0M744.1,469.5a2.25,2.25 0 1,0 4.5,0a2.25,2.25 0 1,0 -4.5,0M745.7,468.7a2.25,2.25 0 1,0 4.5,0a2.25,2.25 0 1,0 -4.5,0M747.6,468.6a2.25,2.25 0 1,0 4.5,0a2.25,2.25 0 1,0 -4.5,0M749.1,467.7a2.25,2.25 0 1,0 4.5,0a2.25,2.25 0 1,0 -4.5,0M750.9,469.0a2.25,2.25 0 1,0 4.5,0a2.25,2.25 0 1,0 -4.5,0M752.5,468.6a2.25,2.25 0 1,0 4.5,0a2.25,2.25 0 1,0 -4.5,0M754.7,467.6a2.25,2.25 0 1,0 4.5,0a2.25,2.25 0 1,0 -4.5,0M756.1,467.8a2.25,2.25 0 1,0 4.5,0a2.25,2.25 0 1,0 -4.5,0M758.1,468.2a2.25,2.25 0 1,0 4.5,0a2.25,2.25 0 1,0 -4.5,0M759.8,468.4a2.25,2.25 0 1,0 4.5,0a2.25,2.25 0 1,0 -4.5,0M761.3,467.7a2.25,2.25 0 1,0 4.5,0a2.25,2.25 0 1,0 -4.5,0M763.3,470.2a2.25,2.25 0 1,0 4.5,0a2.25,2.25 0 1,0 -4.5,0M765.2,468.2a2.25,2.25 0 1,0 4.5,0a2.25,2.25 0 1,0 -4.5,0M767.1,469.0a2.25,2.25 0 1,0 4.5,0a2.25,2.25 0 1,0 -4.5,0M768.5,468.5a2.25,2.25 0 1,0 4.5,0a2.25,2.25 0 1,0 -4.5,0M770.7,468.7a2.25,2.25 0 1,0 4.5,0a2.25,2.25 0 1,0 -4.5,0M771.9,469.1a2.25,2.25 0 1,0 4.5,0a2.25,2.25 0 1,0 -4.5,0M774.0,468.9a2.25,2.25 0 1,0 4.5,0a2.25,2.25 0 1,0 -4.5,0M775.6,469.2a2.25,2.25 0 1,0 4.5,0a2.25,2.25 0 1,0 -4.5,0M777.6,468.1a2.25,2.25 0 1,0 4.5,0a2.25,2.25 0 1,0 -4.5,0M779.0,468.8a2.25,2.25 0 1,0 4.5,0a2.25,2.25 0 1,0 -4.5,0M780.9,469.5a2.25,2.25 0 1,0 4.5,0a2.25,2.25 0 1,0 -4.5,0M782.6,468.1a2.25,2.25 0 1,0 4.5,0a2.25,2.25 0 1,0 -4.5,0M784.8,468.6a2.25,2.25 0 1,0 4.5,0a2.25,2.25 0 1,0 -4.5,0M786.2,469.4a2.25,2.25 0 1,0 4.5,0a2.25,2.25 0 1,0 -4.5,0M788.4,469.0a2.25,2.25 0 1,0 4.5,0a2.25,2.25 0 1,0 -4.5,0M789.7,467.4a2.25,2.25 0 1,0 4.5,0a2.25,2.25 0 1,0 -4.5,0M791.5,468.5a2.25,2.25 0 1,0 4.5,0a2.25,2.25 0 1,0 -4.5,0M793.7,469.1a2.25,2.25 0 1,0 4.5,0a2.25,2.25 0 1,0 -4.5,0M795.2,468.4a2.25,2.25 0 1,0 4.5,0a2.25,2.25 0 1,0 -4.5,0M796.9,468.1a2.25,2.25 0 1,0 4.5,0a2.25,2.25 0 1,0 -4.5,0M798.8,468.2a2.25,2.25 0 1,0 4.5,0a2.25,2.25 0 1,0 -4.5,0M800.4,468.7a2.25,2.25 0 1,0 4.5,0a2.25,2.25 0 1,0 -4.5,0M802.1,468.2a2.25,2.25 0 1,0 4.5,0a2.25,2.25 0 1,0 -4.5,0M803.7,468.6a2.25,2.25 0 1,0 4.5,0a2.25,2.25 0 1,0 -4.5,0M805.5,469.6a2.25,2.25 0 1,0 4.5,0a2.25,2.25 0 1,0 -4.5,0M807.8,467.5a2.25,2.25 0 1,0 4.5,0a2.25,2.25 0 1,0 -4.5,0M809.5,466.8a2.25,2.25 0 1,0 4.5,0a2.25,2.25 0 1,0 -4.5,0M811.0,468.3a2.25,2.25 0 1,0 4.5,0a2.25,2.25 0 1,0 -4.5,0M812.7,467.0a2.25,2.25 0 1,0 4.5,0a2.25,2.25 0 1,0 -4.5,0M814.3,468.2a2.25,2.25 0 1,0 4.5,0a2.25,2.25 0 1,0 -4.5,0M816.5,467.8a2.25,2.25 0 1,0 4.5,0a2.25,2.25 0 1,0 -4.5,0M818.1,466.3a2.25,2.25 0 1,0 4.5,0a2.25,2.25 0 1,0 -4.5,0M819.7,465.4a2.25,2.25 0 1,0 4.5,0a2.25,2.25 0 1,0 -4.5,0M821.6,464.6a2.25,2.25 0 1,0 4.5,0a2.25,2.25 0 1,0 -4.5,0M823.7,461.6a2.25,2.25 0 1,0 4.5,0a2.25,2.25 0 1,0 -4.5,0M825.0,459.1a2.25,2.25 0 1,0 4.5,0a2.25,2.25 0 1,0 -4.5,0M826.9,456.4a2.25,2.25 0 1,0 4.5,0a2.25,2.25 0 1,0 -4.5,0M828.7,453.6a2.25,2.25 0 1,0 4.5,0a2.25,2.25 0 1,0 -4.5,0M830.2,447.5a2.25,2.25 0 1,0 4.5,0a2.25,2.25 0 1,0 -4.5,0M832.4,440.3a2.25,2.25 0 1,0 4.5,0a2.25,2.25 0 1,0 -4.5,0M833.4,435.0a2.25,2.25 0 1,0 4.5,0a2.25,2.25 0 1,0 -4.5,0M834.6,426.8a2.25,2.25 0 1,0 4.5,0a2.25,2.25 0 1,0 -4.5,0M836.0,421.3a2.25,2.25 0 1,0 4.5,0a2.25,2.25 0 1,0 -4.5,0M836.9,416.8a2.25,2.25 0 1,0 4.5,0a2.25,2.25 0 1,0 -4.5,0M838.0,408.4a2.25,2.25 0 1,0 4.5,0a2.25,2.25 0 1,0 -4.5,0M839.1,403.2a2.25,2.25 0 1,0 4.5,0a2.25,2.25 0 1,0 -4.5,0M840.5,397.4a2.25,2.25 0 1,0 4.5,0a2.25,2.25 0 1,0 -4.5,0M841.3,392.4a2.25,2.25 0 1,0 4.5,0a2.25,2.25 0 1,0 -4.5,0M842.8,386.6a2.25,2.25 0 1,0 4.5,0a2.25,2.25 0 1,0 -4.5,0M843.9,380.8a2.25,2.25 0 1,0 4.5,0a2.25,2.25 0 1,0 -4.5,0M844.9,374.8a2.25,2.25 0 1,0 4.5,0a2.25,2.25 0 1,0 -4.5,0M846.5,369.0a2.25,2.25 0 1,0 4.5,0a2.25,2.25 0 1,0 -4.5,0M848.1,364.6a2.25,2.25 0 1,0 4.5,0a2.25,2.25 0 1,0 -4.5,0M849.3,359.3a2.25,2.25 0 1,0 4.5,0a2.25,2.25 0 1,0 -4.5,0M851.2,355.1a2.25,2.25 0 1,0 4.5,0a2.25,2.25 0 1,0 -4.5,0M853.4,349.4a2.25,2.25 0 1,0 4.5,0a2.25,2.25 0 1,0 -4.5,0M854.9,346.6a2.25,2.25 0 1,0 4.5,0a2.25,2.25 0 1,0 -4.5,0M856.7,343.5a2.25,2.25 0 1,0 4.5,0a2.25,2.25 0 1,0 -4.5,0M858.7,341.8a2.25,2.25 0 1,0 4.5,0a2.25,2.25 0 1,0 -4.5,0M860.4,339.6a2.25,2.25 0 1,0 4.5,0a2.25,2.25 0 1,0 -4.5,0M862.2,339.4a2.25,2.25 0 1,0 4.5,0a2.25,2.25 0 1,0 -4.5,0M863.7,339.5a2.25,2.25 0 1,0 4.5,0a2.25,2.25 0 1,0 -4.5,0M865.4,338.6a2.25,2.25 0 1,0 4.5,0a2.25,2.25 0 1,0 -4.5,0M867.0,336.4a2.25,2.25 0 1,0 4.5,0a2.25,2.25 0 1,0 -4.5,0M868.9,336.8a2.25,2.25 0 1,0 4.5,0a2.25,2.25 0 1,0 -4.5,0M870.6,337.0a2.25,2.25 0 1,0 4.5,0a2.25,2.25 0 1,0 -4.5,0M872.3,336.7a2.25,2.25 0 1,0 4.5,0a2.25,2.25 0 1,0 -4.5,0M874.6,336.2a2.25,2.25 0 1,0 4.5,0a2.25,2.25 0 1,0 -4.5,0M876.4,335.3a2.25,2.25 0 1,0 4.5,0a2.25,2.25 0 1,0 -4.5,0M877.6,335.7a2.25,2.25 0 1,0 4.5,0a2.25,2.25 0 1,0 -4.5,0M879.4,336.6a2.25,2.25 0 1,0 4.5,0a2.25,2.25 0 1,0 -4.5,0M881.4,335.5a2.25,2.25 0 1,0 4.5,0a2.25,2.25 0 1,0 -4.5,0M883.0,336.3a2.25,2.25 0 1,0 4.5,0a2.25,2.25 0 1,0 -4.5,0M885.1,335.0a2.25,2.25 0 1,0 4.5,0a2.25,2.25 0 1,0 -4.5,0M886.9,334.8a2.25,2.25 0 1,0 4.5,0a2.25,2.25 0 1,0 -4.5,0M888.3,336.2a2.25,2.25 0 1,0 4.5,0a2.25,2.25 0 1,0 -4.5,0M890.5,335.6a2.25,2.25 0 1,0 4.5,0a2.25,2.25 0 1,0 -4.5,0M891.9,334.5a2.25,2.25 0 1,0 4.5,0a2.25,2.25 0 1,0 -4.5,0M893.9,335.2a2.25,2.25 0 1,0 4.5,0a2.25,2.25 0 1,0 -4.5,0M895.4,334.8a2.25,2.25 0 1,0 4.5,0a2.25,2.25 0 1,0 -4.5,0M897.1,334.6a2.25,2.25 0 1,0 4.5,0a2.25,2.25 0 1,0 -4.5,0M899.0,335.9a2.25,2.25 0 1,0 4.5,0a2.25,2.25 0 1,0 -4.5,0M900.8,334.5a2.25,2.25 0 1,0 4.5,0a2.25,2.25 0 1,0 -4.5,0M902.5,335.3a2.25,2.25 0 1,0 4.5,0a2.25,2.25 0 1,0 -4.5,0M904.6,336.4a2.25,2.25 0 1,0 4.5,0a2.25,2.25 0 1,0 -4.5,0M905.9,337.0a2.25,2.25 0 1,0 4.5,0a2.25,2.25 0 1,0 -4.5,0M907.9,334.7a2.25,2.25 0 1,0 4.5,0a2.25,2.25 0 1,0 -4.5,0M909.9,336.4a2.25,2.25 0 1,0 4.5,0a2.25,2.25 0 1,0 -4.5,0" fill="#e818d8"/>
</g>
</g>
</g>
<g fill="none" stroke-linecap="round" stroke-linejoin="round">
<path d="M378.8,142.8C377.7,145.7 374.2,156.9 372.5,160.2C370.8,163.6 369.2,161.5 368.8,162.8C368.3,164.0 368.8,166.2 370.0,167.8C371.2,169.3 374.4,171.1 376.2,172.1C378.1,173.2 380.4,173.7 381.2,174.0M369.4,161.5C370.3,161.2 373.4,159.6 375.0,159.6C376.6,159.6 378.5,160.4 378.8,161.5C379.0,162.6 376.7,165.7 376.2,166.5M385.0,165.2C386.2,164.6 389.8,161.9 392.5,161.5C395.2,161.1 398.5,161.3 401.2,162.8C404.0,164.2 406.9,168.0 408.8,170.2C410.6,172.5 411.5,175.0 412.5,176.5C413.5,178.0 414.6,178.6 415.0,179.0M415.0,179.0C414.2,179.6 411.2,182.1 410.0,182.8C408.8,183.4 408.8,183.4 407.5,182.8C406.2,182.1 404.2,179.8 402.5,179.0C400.8,178.2 399.3,177.8 397.5,177.8C395.7,177.8 392.7,178.0 391.9,179.0C391.0,180.0 391.6,182.8 392.5,184.0C393.4,185.2 395.8,186.5 397.5,186.5C399.2,186.5 401.4,185.2 402.5,184.0C403.6,182.8 404.6,180.7 404.4,179.0C404.2,177.3 402.8,175.5 401.2,174.0C399.7,172.5 396.0,170.9 395.0,170.2M397.5,165.2C398.5,165.7 402.5,166.7 403.8,167.8C405.0,168.8 405.4,170.7 405.0,171.5C404.6,172.3 402.5,173.0 401.2,172.8C400.0,172.5 398.1,170.7 397.5,170.2M410.0,177.8C410.2,178.3 411.6,180.1 411.2,180.9C410.9,181.6 408.6,181.9 408.1,182.1M382.5,142.8C382.6,141.9 382.4,139.2 383.1,137.8C383.9,136.3 386.0,134.2 386.9,134.0C387.7,133.8 387.9,136.1 388.1,136.5M388.8,136.5C389.6,136.4 392.7,136.5 393.8,135.9C394.8,135.2 394.8,133.3 395.0,132.8M377.5,140.2C378.3,140.9 381.2,142.5 382.5,144.0C383.8,145.5 384.6,148.2 385.0,149.0M386.2,161.5C385.6,162.1 382.7,164.0 382.5,165.2C382.3,166.5 383.5,168.0 385.0,169.0C386.5,170.0 388.8,170.2 391.2,171.5C393.8,172.8 397.3,175.2 400.0,176.5C402.7,177.8 406.2,178.6 407.5,179.0" stroke="#2a2ae6" stroke-width="0.95"/>
<path d="M370.4,141.0L377.7,142.5L370.6,144.5L377.8,146.0L370.7,148.0L378.0,149.5L370.9,151.5L378.1,153.0L371.0,155.0L378.3,156.5L371.2,158.5" stroke="#0a0adc" stroke-width="2.5"/>
<path d="M382.3,141.2L387.1,138.1L386.1,143.7L390.8,140.6L389.8,146.2" stroke="#0a0adc" stroke-width="2.4"/>
<path d="M380.0,153.6L383.9,148.8L382.8,154.9L386.7,150.0L385.7,156.1" stroke="#0a0adc" stroke-width="2.6"/>
<path d="M387.1,150.7L388.5,142.2L390.7,150.5L392.1,142.1L394.2,150.4L395.7,141.9L397.8,150.2L399.3,141.8L401.4,150.1" stroke="#0a0adc" stroke-width="3.0"/>
<path d="M386.0,152.1L393.4,151.5L387.2,155.7L394.7,155.1L388.5,159.2L395.9,158.7L389.7,162.8L397.2,162.3L391.0,166.4" stroke="#0a0adc" stroke-width="2.9"/>
<path d="M393.2,143.9L395.1,139.0L397.3,143.8L399.1,138.9L401.3,143.6" stroke="#0a0adc" stroke-width="2.4"/>
<path d="M402.7,141.2L410.2,143.2L402.6,145.0L410.1,147.0L402.5,148.8L410.0,150.8L402.4,152.6L409.9,154.6L402.3,156.4L409.8,158.4L402.2,160.2" stroke="#0a0adc" stroke-width="2.6"/>
<path d="M373.0,172.9L376.8,168.9L376.6,174.4L380.4,170.4L380.2,175.9L384.0,171.9L383.7,177.4" stroke="#0a0adc" stroke-width="2.5"/>
<path d="M389.0,172.1C390.7,172.9 397.3,176.0 399.0,176.8" stroke="#0a0adc" stroke-width="2.3"/>
<path d="M391.2,165.2C391.6,165.7 392.8,167.3 393.1,167.8" stroke="#0a0adc" stroke-width="2.6"/>
</g>
<g fill="none" stroke-linecap="round" stroke-linejoin="round">
<path d="M759.1,147.7C757.5,148.6 750.6,151.5 749.7,153.2C748.8,154.9 754.4,156.6 753.6,157.9C752.8,159.2 746.2,159.7 745.0,161.0C743.8,162.3 747.6,164.6 746.6,165.7C745.5,166.7 741.5,166.6 738.8,167.2C736.0,167.9 732.0,168.2 730.2,169.6C728.3,171.0 727.0,174.3 727.8,175.8C728.6,177.4 733.7,178.4 734.8,179.0M770.0,146.9C771.6,147.5 776.8,148.5 779.4,150.1C782.0,151.6 783.8,154.0 785.6,156.3C787.4,158.7 788.2,162.3 790.3,164.1C792.4,165.9 796.0,165.7 798.1,167.2C800.2,168.8 802.9,171.7 802.8,173.5C802.7,175.3 798.9,177.9 797.3,178.2C795.8,178.4 794.1,175.6 793.4,175.1M770.0,146.9C769.7,148.0 768.0,151.1 768.4,153.2C768.8,155.3 772.1,157.6 772.3,159.4C772.6,161.3 770.4,163.3 770.0,164.1M759.1,157.9C760.1,157.6 763.5,155.8 765.3,156.3C767.1,156.8 770.1,159.4 770.0,161.0C769.9,162.6 766.4,165.4 764.5,165.7C762.7,165.9 760.2,162.4 759.1,162.6C757.9,162.7 756.2,165.3 757.5,166.5C758.8,167.6 764.5,169.9 766.9,169.6C769.2,169.3 770.8,165.7 771.6,164.9M755.2,159.4C755.5,161.5 756.3,169.1 757.5,171.9C758.7,174.8 761.4,175.8 762.2,176.6M732.5,187.6C732.4,189.4 730.9,195.6 731.7,198.5C732.5,201.4 735.8,202.8 737.2,204.8C738.6,206.7 738.5,207.9 740.3,210.2C742.1,212.6 745.5,218.0 748.1,218.8C750.7,219.6 754.1,218.3 755.9,214.9C757.8,211.5 757.5,202.3 759.1,198.5C760.6,194.7 763.2,194.1 765.3,192.2C767.4,190.4 770.5,188.3 771.6,187.6M743.4,187.6C744.7,188.1 748.6,190.7 751.2,190.7C753.9,190.7 757.8,188.1 759.1,187.6M771.6,167.2C772.0,168.8 773.9,173.5 773.9,176.6C773.9,179.8 771.4,183.7 771.6,186.0C771.7,188.3 774.2,189.9 774.7,190.7M806.7,198.5C807.4,199.0 810.0,201.1 810.6,201.6M738.8,204.8C739.5,204.5 742.1,202.9 743.4,203.2C744.7,203.4 746.6,205.4 746.6,206.3C746.6,207.2 744.6,208.5 743.4,208.7C742.3,208.8 740.2,207.4 739.5,207.1" stroke="#18b2b4" stroke-width="2.1"/>
<path d="M738.8,168.0C740.7,168.3 748.1,166.3 750.5,169.6C752.8,172.8 752.4,184.6 752.8,187.6" stroke="#8c1c8c" stroke-width="5"/>
<path d="M733.3,189.9C734.2,189.0 736.8,185.7 738.8,184.4C740.7,183.1 744.0,182.5 745.0,182.1" stroke="#8c1c8c" stroke-width="5"/>
<path d="M737.2,189.9C737.6,190.7 739.1,193.8 739.5,194.6" stroke="#a030a0" stroke-width="3"/>
<path d="M753.6,172.7C755.5,173.4 763.4,176.2 765.3,176.9" stroke="#8c1c8c" stroke-width="3.5"/>
<path d="M752.0,176.9C753.5,179.0 759.5,187.1 760.9,189.1" stroke="#8c1c8c" stroke-width="4"/>
<path d="M757.5,181.3C758.3,182.9 761.4,189.1 762.2,190.7" stroke="#a838a8" stroke-width="3"/>
<path d="M747.3,193.8C748.4,195.2 752.6,201.0 753.6,202.4" stroke="#c468c4" stroke-width="4.5"/>
<path d="M775.5,156.3C777.3,157.2 784.2,159.3 786.4,161.8C788.6,164.3 788.4,169.6 788.8,171.2" stroke="#8c1c8c" stroke-width="6"/>
<path d="M774.4,163.3C775.7,165.6 781.1,174.7 782.5,176.9" stroke="#8c1c8c" stroke-width="4.5"/>
<path d="M772.3,176.9C774.6,176.6 781.9,174.8 785.6,175.1C789.3,175.3 793.2,177.9 794.7,178.5" stroke="#4a0c4a" stroke-width="3.5"/>
<path d="M776.6,187.9C779.6,186.8 791.9,182.4 795.0,181.3" stroke="#8c1c8c" stroke-width="4"/>
<path d="M777.8,194.1C780.9,192.8 793.4,187.6 796.6,186.3" stroke="#8c1c8c" stroke-width="4"/>
<path d="M785.6,198.8C787.7,197.1 795.8,190.1 797.8,188.3" stroke="#8c1c8c" stroke-width="4"/>
<path d="M788.8,169.6C789.5,171.8 792.7,180.7 793.4,182.9" stroke="#8c1c8c" stroke-width="3"/>
<path d="M733.8,178.5C734.8,178.8 739.2,179.8 740.3,180.1" stroke="#200820" stroke-width="3"/>
<path d="M743.4,171.2C744.5,173.1 747.6,178.8 749.7,182.9C751.8,186.9 754.9,193.3 755.9,195.4" stroke="#8c1c8c" stroke-width="4.5"/>
<path d="M779.4,167.2C780.8,169.6 786.5,179.0 788.0,181.3" stroke="#7a167a" stroke-width="4"/>
<path d="M766.9,182.9C765.6,184.4 760.4,190.7 759.1,192.2" stroke="#9a2c9a" stroke-width="3"/>
<path d="M776.2,182.9C777.3,182.5 781.5,180.9 782.5,180.5" stroke="#3a0a3a" stroke-width="3"/>
<path d="M759.1,209.4L765.3,211.6L771.6,206.3L777.5,211.9L783.8,204.8L789.1,211.6L795.3,199.8L801.2,207.2L806.2,199.8L811.9,206.0" stroke="#1c2c9c" stroke-width="5.4"/>
<path d="M762.2,210.7C764.3,210.5 770.3,209.9 774.7,209.4C779.1,209.0 784.3,209.0 788.8,208.2C793.2,207.4 797.7,205.2 801.2,204.4C804.8,203.7 808.4,203.7 809.8,203.5" stroke="#24349f" stroke-width="4"/>
<path d="M737.5,205.7C738.5,205.4 741.8,203.9 743.4,204.1C745.1,204.4 747.3,206.2 747.3,207.1C747.3,208.0 744.7,209.4 743.4,209.4C742.1,209.5 739.3,208.2 739.5,207.6C739.8,206.9 742.9,205.4 745.0,205.5C747.1,205.6 750.3,207.3 752.0,208.2C753.7,209.1 753.9,210.8 755.2,211.0C756.5,211.2 759.1,209.7 759.8,209.4" stroke="#1c2c9c" stroke-width="2.6"/>
<path d="M770.3,195.1C770.1,196.0 769.3,199.9 769.1,200.8" stroke="#dcd21e" stroke-width="1.8"/>
<path d="M769.7,193.5C769.9,193.8 770.7,195.1 770.9,195.4" stroke="#e03020" stroke-width="1.4"/>
<path d="M809.8,198.5C809.5,199.2 807.9,201.8 807.5,202.4" stroke="#18b2b4" stroke-width="2.4"/>
</g>
<g stroke-linecap="round" fill="none"><rect x="191.70" y="345.30" width="56.30" height="56.30" fill="#8b4909"/>
<clipPath id="cp191"><rect x="191.70" y="345.30" width="56.30" height="56.30"/></clipPath>
<g clip-path="url(#cp191)"><g filter="url(#soft2)">
<path d="M220.8,356.5C220.6,357.7 219.2,361.0 219.4,363.6C219.6,366.3 220.8,369.6 222.0,372.5C223.2,375.3 224.9,378.1 226.7,380.7C228.6,383.4 231.5,386.2 233.2,388.4C235.0,390.6 236.7,392.8 237.4,393.7" stroke="#4a1c00" stroke-width="2.70" transform="translate(-0.9 0.1)" opacity="0.90"/>
<path d="M220.8,356.5C220.6,357.7 219.2,361.0 219.4,363.6C219.6,366.3 220.8,369.6 222.0,372.5C223.2,375.3 224.9,378.1 226.7,380.7C228.6,383.4 231.5,386.2 233.2,388.4C235.0,390.6 236.7,392.8 237.4,393.7" stroke="#d8a228" stroke-width="1.90" transform="translate(0.35 0)" opacity="1.00"/>
<path d="M214.9,361.3C215.3,362.6 215.9,366.6 216.9,369.5C218.0,372.5 220.7,377.4 221.4,379.0" stroke="#4a1c00" stroke-width="2.30" transform="translate(-0.9 0.1)" opacity="0.81"/>
<path d="M214.9,361.3C215.3,362.6 215.9,366.6 216.9,369.5C218.0,372.5 220.7,377.4 221.4,379.0" stroke="#d8a228" stroke-width="1.50" transform="translate(0.35 0)" opacity="0.90"/>
<path d="M222.6,373.1C223.2,373.6 225.1,375.2 226.1,376.6C227.2,378.0 227.5,379.0 229.1,381.3C230.7,383.7 234.5,389.2 235.6,390.8" stroke="#4a1c00" stroke-width="2.00" transform="translate(-0.9 0.1)" opacity="0.72"/>
<path d="M222.6,373.1C223.2,373.6 225.1,375.2 226.1,376.6C227.2,378.0 227.5,379.0 229.1,381.3C230.7,383.7 234.5,389.2 235.6,390.8" stroke="#d8a228" stroke-width="1.20" transform="translate(0.35 0)" opacity="0.80"/>
<path d="M201.3,375.4C202.2,376.0 205.8,378.4 206.7,379.0" stroke="#4a1c00" stroke-width="2.60" transform="translate(-0.9 0.1)" opacity="0.54"/>
<path d="M201.3,375.4C202.2,376.0 205.8,378.4 206.7,379.0" stroke="#d8a228" stroke-width="1.80" transform="translate(0.35 0)" opacity="0.60"/>
<path d="M207.3,376.6C208.3,377.7 212.7,382.0 213.7,383.1" stroke="#4a1c00" stroke-width="2.60" transform="translate(-0.9 0.1)" opacity="0.63"/>
<path d="M207.3,376.6C208.3,377.7 212.7,382.0 213.7,383.1" stroke="#d8a228" stroke-width="1.80" transform="translate(0.35 0)" opacity="0.70"/>
<path d="M213.7,376.0C214.9,377.3 219.6,382.4 220.8,383.7" stroke="#4a1c00" stroke-width="2.40" transform="translate(-0.9 0.1)" opacity="0.63"/>
<path d="M213.7,376.0C214.9,377.3 219.6,382.4 220.8,383.7" stroke="#d8a228" stroke-width="1.60" transform="translate(0.35 0)" opacity="0.70"/>
<path d="M204.9,379.6C206.0,380.3 210.3,383.5 211.4,384.3" stroke="#4a1c00" stroke-width="2.00" transform="translate(-0.9 0.1)" opacity="0.41"/>
<path d="M204.9,379.6C206.0,380.3 210.3,383.5 211.4,384.3" stroke="#d8a228" stroke-width="1.20" transform="translate(0.35 0)" opacity="0.45"/>
</g></g>
<path d="M197.60,394.90H226.70" stroke="#e6d2b8" stroke-width="2.1" stroke-linecap="butt"/></g>
<g stroke-linecap="round" fill="none"><rect x="358.10" y="365.90" width="55.90" height="55.50" fill="#7a3202"/>
<clipPath id="cp358"><rect x="358.10" y="365.90" width="55.90" height="55.50"/></clipPath>
<g clip-path="url(#cp358)"><g filter="url(#soft2)">
<path d="M379.7,371.2C379.5,373.9 378.4,382.1 378.6,387.2C378.8,392.2 378.9,397.2 380.9,401.3C383.0,405.5 389.3,410.2 391.0,411.9" stroke="#4a1c00" stroke-width="1.70" transform="translate(-0.9 0.1)" opacity="0.90"/>
<path d="M379.7,371.2C379.5,373.9 378.4,382.1 378.6,387.2C378.8,392.2 378.9,397.2 380.9,401.3C383.0,405.5 389.3,410.2 391.0,411.9" stroke="#e8c068" stroke-width="0.90" transform="translate(0.35 0)" opacity="1.00"/>
<path d="M388.6,377.1C390.4,379.8 395.7,388.6 399.2,393.1C402.8,397.5 408.0,400.3 409.9,403.7C411.7,407.0 411.4,410.3 410.4,413.1C409.5,416.0 405.0,419.5 403.9,420.8" stroke="#4a1c00" stroke-width="1.70" transform="translate(-0.9 0.1)" opacity="0.77"/>
<path d="M388.6,377.1C390.4,379.8 395.7,388.6 399.2,393.1C402.8,397.5 408.0,400.3 409.9,403.7C411.7,407.0 411.4,410.3 410.4,413.1C409.5,416.0 405.0,419.5 403.9,420.8" stroke="#e8c068" stroke-width="0.90" transform="translate(0.35 0)" opacity="0.85"/>
<path d="M402.8,366.5C402.6,368.7 401.8,377.3 401.6,379.5" stroke="#4a1c00" stroke-width="1.80" transform="translate(-0.9 0.1)" opacity="0.90"/>
<path d="M402.8,366.5C402.6,368.7 401.8,377.3 401.6,379.5" stroke="#e8c068" stroke-width="1.00" transform="translate(0.35 0)" opacity="1.00"/>
<path d="M377.4,400.7C376.1,402.4 372.5,407.4 369.7,410.8C367.0,414.1 362.3,419.1 360.9,420.8" stroke="#4a1c00" stroke-width="1.70" transform="translate(-0.9 0.1)" opacity="0.90"/>
<path d="M377.4,400.7C376.1,402.4 372.5,407.4 369.7,410.8C367.0,414.1 362.3,419.1 360.9,420.8" stroke="#e8c068" stroke-width="0.90" transform="translate(0.35 0)" opacity="1.00"/>
<path d="M408.7,408.4C408.5,409.6 408.2,413.7 407.5,415.5C406.8,417.3 405.0,418.4 404.5,419.0" stroke="#4a1c00" stroke-width="1.70" transform="translate(-0.9 0.1)" opacity="0.72"/>
<path d="M408.7,408.4C408.5,409.6 408.2,413.7 407.5,415.5C406.8,417.3 405.0,418.4 404.5,419.0" stroke="#e8c068" stroke-width="0.90" transform="translate(0.35 0)" opacity="0.80"/>
</g></g>
<path d="M369.70,415.60H398.00" stroke="#e6d2b8" stroke-width="2.1" stroke-linecap="butt"/></g>
<g stroke-linecap="round" fill="none"><rect x="528.10" y="353.70" width="55.30" height="55.50" fill="#8b4909"/>
<clipPath id="cp528"><rect x="528.10" y="353.70" width="55.30" height="55.50"/></clipPath>
<g clip-path="url(#cp528)"><g filter="url(#soft2)">
<path d="M570.4,370.4C568.8,371.5 563.7,374.8 561.0,376.9C558.2,379.1 556.4,380.9 553.9,383.4C551.3,386.0 548.2,389.5 545.6,392.3C543.1,395.0 539.7,398.7 538.5,399.9" stroke="#4a1c00" stroke-width="2.50" transform="translate(-0.9 0.1)" opacity="0.81"/>
<path d="M570.4,370.4C568.8,371.5 563.7,374.8 561.0,376.9C558.2,379.1 556.4,380.9 553.9,383.4C551.3,386.0 548.2,389.5 545.6,392.3C543.1,395.0 539.7,398.7 538.5,399.9" stroke="#cf9a26" stroke-width="1.70" transform="translate(0.35 0)" opacity="0.90"/>
<path d="M540.9,363.3C539.9,365.3 536.8,371.4 535.0,375.2C533.2,378.9 531.1,384.0 530.3,385.8" stroke="#4a1c00" stroke-width="2.40" transform="translate(-0.9 0.1)" opacity="0.72"/>
<path d="M540.9,363.3C539.9,365.3 536.8,371.4 535.0,375.2C533.2,378.9 531.1,384.0 530.3,385.8" stroke="#cf9a26" stroke-width="1.60" transform="translate(0.35 0)" opacity="0.80"/>
<path d="M540.9,363.3C542.9,363.3 549.0,362.6 552.7,363.3C556.4,364.1 560.4,366.9 563.3,368.1C566.3,369.3 569.2,370.0 570.4,370.4" stroke="#4a1c00" stroke-width="2.00" transform="translate(-0.9 0.1)" opacity="0.54"/>
<path d="M540.9,363.3C542.9,363.3 549.0,362.6 552.7,363.3C556.4,364.1 560.4,366.9 563.3,368.1C566.3,369.3 569.2,370.0 570.4,370.4" stroke="#cf9a26" stroke-width="1.20" transform="translate(0.35 0)" opacity="0.60"/>
<path d="M569.2,357.4C570.0,359.0 573.2,365.3 573.9,366.9" stroke="#4a1c00" stroke-width="2.20" transform="translate(-0.9 0.1)" opacity="0.77"/>
<path d="M569.2,357.4C570.0,359.0 573.2,365.3 573.9,366.9" stroke="#cf9a26" stroke-width="1.40" transform="translate(0.35 0)" opacity="0.85"/>
<path d="M578.7,366.9C577.1,368.9 570.8,376.7 569.2,378.7" stroke="#4a1c00" stroke-width="2.20" transform="translate(-0.9 0.1)" opacity="0.72"/>
<path d="M578.7,366.9C577.1,368.9 570.8,376.7 569.2,378.7" stroke="#cf9a26" stroke-width="1.40" transform="translate(0.35 0)" opacity="0.80"/>
<path d="M551.5,392.9C553.3,394.0 560.4,398.8 562.1,399.9" stroke="#4a1c00" stroke-width="2.20" transform="translate(-0.9 0.1)" opacity="0.68"/>
<path d="M551.5,392.9C553.3,394.0 560.4,398.8 562.1,399.9" stroke="#cf9a26" stroke-width="1.40" transform="translate(0.35 0)" opacity="0.75"/>
<path d="M539.7,371.6C539.3,373.4 537.7,380.5 537.3,382.2" stroke="#4a1c00" stroke-width="2.00" transform="translate(-0.9 0.1)" opacity="0.63"/>
<path d="M539.7,371.6C539.3,373.4 537.7,380.5 537.3,382.2" stroke="#cf9a26" stroke-width="1.20" transform="translate(0.35 0)" opacity="0.70"/>
<path d="M535.0,383.4C535.6,384.6 537.9,389.3 538.5,390.5" stroke="#4a1c00" stroke-width="1.80" transform="translate(-0.9 0.1)" opacity="0.45"/>
<path d="M535.0,383.4C535.6,384.6 537.9,389.3 538.5,390.5" stroke="#cf9a26" stroke-width="1.00" transform="translate(0.35 0)" opacity="0.50"/>
</g></g>
<path d="M534.40,402.50H562.70" stroke="#e6d2b8" stroke-width="2.1" stroke-linecap="butt"/></g>
</g>
</svg>
</body></html>
